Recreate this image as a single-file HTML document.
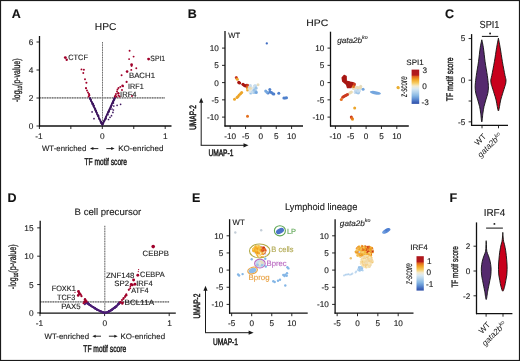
<!DOCTYPE html>
<html><head><meta charset="utf-8"><style>
html,body{margin:0;padding:0;background:#fff;}
svg{display:block;font-family:"Liberation Sans", sans-serif;will-change:transform;text-rendering:geometricPrecision;}
</style></head><body>
<svg width="520" height="361" viewBox="0 0 520 361">
<rect x="0.5" y="0.5" width="519" height="360" fill="#fff" stroke="#1a1a1a" stroke-width="1.2"/>
<text x="11.70" y="17.50" font-size="12.5" font-weight="bold" font-style="normal" fill="#111" text-anchor="start"  stroke="#111" stroke-width="0.12">A</text>
<text x="187.80" y="17.50" font-size="12.5" font-weight="bold" font-style="normal" fill="#111" text-anchor="start"  stroke="#111" stroke-width="0.12">B</text>
<text x="445.00" y="17.50" font-size="12.5" font-weight="bold" font-style="normal" fill="#111" text-anchor="start"  stroke="#111" stroke-width="0.12">C</text>
<text x="7.50" y="201.60" font-size="12.5" font-weight="bold" font-style="normal" fill="#111" text-anchor="start"  stroke="#111" stroke-width="0.12">D</text>
<text x="192.00" y="201.80" font-size="12.5" font-weight="bold" font-style="normal" fill="#111" text-anchor="start"  stroke="#111" stroke-width="0.12">E</text>
<text x="449.50" y="201.60" font-size="12.5" font-weight="bold" font-style="normal" fill="#111" text-anchor="start"  stroke="#111" stroke-width="0.12">F</text>
<text x="94.78" y="30.00" font-size="10" font-weight="normal" font-style="normal" fill="#1a1a1a" text-anchor="start" textLength="21.60" lengthAdjust="spacingAndGlyphs"  stroke="#1a1a1a" stroke-width="0.12">HPC</text>
<line x1="102.50" y1="42.00" x2="102.50" y2="126.00" stroke="#c4c4c4" stroke-width="1.0" />
<line x1="102.50" y1="42.00" x2="102.50" y2="126.00" stroke="#6a6a6a" stroke-width="0.95" stroke-dasharray="1.3,1.2"/>
<line x1="39.50" y1="97.90" x2="165.00" y2="97.90" stroke="#b4b4b4" stroke-width="1.4" />
<line x1="39.50" y1="97.90" x2="165.00" y2="97.90" stroke="#6c6c6c" stroke-width="1.2" stroke-dasharray="1.3,1.2"/>
<line x1="39.50" y1="36.00" x2="39.50" y2="126.50" stroke="#111111" stroke-width="1.3" />
<line x1="39.00" y1="126.00" x2="171.50" y2="126.00" stroke="#111111" stroke-width="1.3" />
<line x1="36.50" y1="126.00" x2="39.50" y2="126.00" stroke="#111111" stroke-width="0.9" />
<text x="33.30" y="128.95" font-size="8.3" font-weight="normal" font-style="normal" fill="#1c1c1c" text-anchor="end"  stroke="#1c1c1c" stroke-width="0.12">0</text>
<line x1="36.50" y1="98.00" x2="39.50" y2="98.00" stroke="#111111" stroke-width="0.9" />
<text x="33.30" y="100.95" font-size="8.3" font-weight="normal" font-style="normal" fill="#1c1c1c" text-anchor="end"  stroke="#1c1c1c" stroke-width="0.12">2</text>
<line x1="36.50" y1="70.00" x2="39.50" y2="70.00" stroke="#111111" stroke-width="0.9" />
<text x="33.30" y="72.95" font-size="8.3" font-weight="normal" font-style="normal" fill="#1c1c1c" text-anchor="end"  stroke="#1c1c1c" stroke-width="0.12">4</text>
<line x1="36.50" y1="42.00" x2="39.50" y2="42.00" stroke="#111111" stroke-width="0.9" />
<text x="33.30" y="44.95" font-size="8.3" font-weight="normal" font-style="normal" fill="#1c1c1c" text-anchor="end"  stroke="#1c1c1c" stroke-width="0.12">6</text>
<line x1="39.40" y1="126.00" x2="39.40" y2="129.00" stroke="#111111" stroke-width="0.9" />
<line x1="70.85" y1="126.00" x2="70.85" y2="129.00" stroke="#111111" stroke-width="0.9" />
<line x1="102.30" y1="126.00" x2="102.30" y2="129.00" stroke="#111111" stroke-width="0.9" />
<line x1="133.75" y1="126.00" x2="133.75" y2="129.00" stroke="#111111" stroke-width="0.9" />
<line x1="165.20" y1="126.00" x2="165.20" y2="129.00" stroke="#111111" stroke-width="0.9" />
<text x="39.00" y="139.20" font-size="8.3" font-weight="normal" font-style="normal" fill="#1c1c1c" text-anchor="middle"  stroke="#1c1c1c" stroke-width="0.12">-1</text>
<text x="102.20" y="139.20" font-size="8.3" font-weight="normal" font-style="normal" fill="#1c1c1c" text-anchor="middle"  stroke="#1c1c1c" stroke-width="0.12">0</text>
<text x="165.20" y="139.20" font-size="8.3" font-weight="normal" font-style="normal" fill="#1c1c1c" text-anchor="middle"  stroke="#1c1c1c" stroke-width="0.12">1</text>
<text x="41.97" y="151.30" font-size="7.8" font-weight="normal" font-style="normal" fill="#1a1a1a" text-anchor="start" textLength="44.34" lengthAdjust="spacingAndGlyphs"  stroke="#1a1a1a" stroke-width="0.12">WT-enriched</text>
<line x1="98.30" y1="148.60" x2="92.72" y2="148.60" stroke="#1a1a1a" stroke-width="0.95" />
<path d="M90.00,148.60 L93.40,147.10 L93.40,150.10 Z" fill="#1a1a1a"/>
<line x1="106.30" y1="148.60" x2="111.88" y2="148.60" stroke="#1a1a1a" stroke-width="0.95" />
<path d="M114.60,148.60 L111.20,147.10 L111.20,150.10 Z" fill="#1a1a1a"/>
<text x="118.16" y="151.30" font-size="7.8" font-weight="normal" font-style="normal" fill="#1a1a1a" text-anchor="start" textLength="45.34" lengthAdjust="spacingAndGlyphs"  stroke="#1a1a1a" stroke-width="0.12">KO-enriched</text>
<text x="84.48" y="164.50" font-size="9.8" font-weight="normal" font-style="normal" fill="#1a1a1a" text-anchor="start" textLength="42.56" lengthAdjust="spacingAndGlyphs" stroke="#1c1c1c" stroke-width="0.45">TF motif score</text>
<g transform="translate(19.80,80.25) rotate(-90)"><text x="0" y="0" font-size="10.4" font-weight="normal" font-style="normal" fill="#1a1a1a" text-anchor="middle" textLength="43.50" lengthAdjust="spacingAndGlyphs" stroke="#1c1c1c" stroke-width="0.3">-log<tspan font-size="6" dy="2">10</tspan><tspan dy="-2">(p-value)</tspan></text></g>
<path d="M89.6,97.6 L102.2,125.0 L114.7,97.6" fill="none" stroke="#3e165f" stroke-width="1.6" stroke-linejoin="round"/>
<circle cx="93.06" cy="104.07" r="0.75" fill="#3e165f"/>
<circle cx="113.04" cy="101.85" r="0.75" fill="#3e165f"/>
<circle cx="90.14" cy="99.42" r="0.75" fill="#3e165f"/>
<circle cx="105.28" cy="119.53" r="0.75" fill="#3e165f"/>
<circle cx="99.56" cy="118.57" r="0.75" fill="#3e165f"/>
<circle cx="111.79" cy="105.18" r="0.75" fill="#3e165f"/>
<circle cx="92.19" cy="102.33" r="0.75" fill="#3e165f"/>
<circle cx="103.30" cy="123.01" r="0.75" fill="#3e165f"/>
<circle cx="100.48" cy="120.31" r="0.75" fill="#3e165f"/>
<circle cx="113.04" cy="102.90" r="0.75" fill="#3e165f"/>
<circle cx="93.41" cy="106.09" r="0.75" fill="#3e165f"/>
<circle cx="104.54" cy="121.02" r="0.75" fill="#3e165f"/>
<circle cx="101.29" cy="121.71" r="0.75" fill="#3e165f"/>
<circle cx="106.62" cy="116.00" r="0.75" fill="#3e165f"/>
<circle cx="96.37" cy="111.46" r="0.75" fill="#3e165f"/>
<circle cx="114.04" cy="100.05" r="0.75" fill="#3e165f"/>
<circle cx="101.88" cy="123.21" r="0.75" fill="#3e165f"/>
<circle cx="111.37" cy="105.83" r="0.75" fill="#3e165f"/>
<circle cx="100.74" cy="122.50" r="0.75" fill="#3e165f"/>
<circle cx="104.51" cy="120.84" r="0.75" fill="#3e165f"/>
<circle cx="95.91" cy="111.53" r="0.75" fill="#3e165f"/>
<circle cx="109.63" cy="109.41" r="0.75" fill="#3e165f"/>
<circle cx="91.70" cy="102.02" r="0.75" fill="#3e165f"/>
<circle cx="114.93" cy="98.78" r="0.75" fill="#3e165f"/>
<circle cx="90.26" cy="98.87" r="0.75" fill="#3e165f"/>
<circle cx="108.28" cy="112.25" r="0.75" fill="#3e165f"/>
<circle cx="95.22" cy="110.51" r="0.75" fill="#3e165f"/>
<circle cx="113.55" cy="102.96" r="0.75" fill="#3e165f"/>
<circle cx="95.18" cy="108.91" r="0.75" fill="#3e165f"/>
<circle cx="111.86" cy="105.17" r="0.75" fill="#3e165f"/>
<circle cx="94.33" cy="107.35" r="0.75" fill="#3e165f"/>
<circle cx="108.11" cy="112.90" r="0.75" fill="#3e165f"/>
<circle cx="101.33" cy="122.38" r="0.75" fill="#3e165f"/>
<circle cx="111.93" cy="103.87" r="0.75" fill="#3e165f"/>
<circle cx="99.33" cy="118.57" r="0.75" fill="#3e165f"/>
<circle cx="110.78" cy="106.67" r="0.75" fill="#3e165f"/>
<circle cx="92.00" cy="102.46" r="0.75" fill="#3e165f"/>
<circle cx="106.02" cy="116.71" r="0.75" fill="#3e165f"/>
<circle cx="101.61" cy="122.15" r="0.75" fill="#3e165f"/>
<circle cx="102.91" cy="123.90" r="0.75" fill="#3e165f"/>
<circle cx="89.89" cy="98.10" r="0.75" fill="#3e165f"/>
<circle cx="106.14" cy="118.84" r="0.75" fill="#3e165f"/>
<circle cx="95.41" cy="108.85" r="0.75" fill="#3e165f"/>
<circle cx="104.69" cy="120.01" r="0.75" fill="#3e165f"/>
<circle cx="93.66" cy="105.64" r="0.75" fill="#3e165f"/>
<circle cx="113.45" cy="101.34" r="0.75" fill="#3e165f"/>
<circle cx="94.92" cy="108.06" r="0.75" fill="#3e165f"/>
<circle cx="114.68" cy="97.86" r="0.75" fill="#3e165f"/>
<circle cx="90.67" cy="98.83" r="0.75" fill="#3e165f"/>
<circle cx="110.86" cy="107.54" r="0.75" fill="#3e165f"/>
<circle cx="94.20" cy="105.56" r="0.75" fill="#3e165f"/>
<circle cx="110.13" cy="109.22" r="0.75" fill="#3e165f"/>
<circle cx="92.56" cy="103.30" r="0.75" fill="#3e165f"/>
<circle cx="112.65" cy="102.22" r="0.75" fill="#3e165f"/>
<circle cx="98.43" cy="116.15" r="0.75" fill="#3e165f"/>
<circle cx="108.67" cy="111.04" r="0.75" fill="#3e165f"/>
<circle cx="93.14" cy="104.42" r="0.75" fill="#3e165f"/>
<circle cx="108.09" cy="112.10" r="0.75" fill="#3e165f"/>
<circle cx="98.85" cy="118.80" r="0.75" fill="#3e165f"/>
<circle cx="109.45" cy="110.69" r="0.75" fill="#3e165f"/>
<circle cx="92.83" cy="104.23" r="0.75" fill="#3e165f"/>
<circle cx="109.50" cy="109.14" r="0.75" fill="#3e165f"/>
<circle cx="93.42" cy="104.41" r="0.75" fill="#3e165f"/>
<circle cx="109.01" cy="111.26" r="0.75" fill="#3e165f"/>
<circle cx="90.24" cy="98.47" r="0.75" fill="#3e165f"/>
<circle cx="112.43" cy="103.30" r="0.75" fill="#3e165f"/>
<circle cx="92.88" cy="103.94" r="0.75" fill="#3e165f"/>
<circle cx="114.24" cy="99.00" r="0.75" fill="#3e165f"/>
<circle cx="100.70" cy="123.03" r="0.75" fill="#3e165f"/>
<circle cx="110.21" cy="108.64" r="0.75" fill="#3e165f"/>
<circle cx="100.90" cy="122.29" r="0.75" fill="#3e165f"/>
<circle cx="106.05" cy="118.01" r="0.75" fill="#3e165f"/>
<circle cx="96.25" cy="111.14" r="0.75" fill="#3e165f"/>
<circle cx="103.95" cy="121.54" r="0.75" fill="#3e165f"/>
<circle cx="101.43" cy="122.25" r="0.75" fill="#3e165f"/>
<circle cx="106.67" cy="115.60" r="0.75" fill="#3e165f"/>
<circle cx="99.58" cy="119.51" r="0.75" fill="#3e165f"/>
<circle cx="108.74" cy="112.07" r="0.75" fill="#3e165f"/>
<circle cx="98.01" cy="115.54" r="0.75" fill="#3e165f"/>
<circle cx="103.49" cy="122.88" r="0.75" fill="#3e165f"/>
<circle cx="102.61" cy="123.80" r="0.75" fill="#3e165f"/>
<circle cx="103.22" cy="123.95" r="0.75" fill="#3e165f"/>
<circle cx="98.89" cy="115.91" r="0.75" fill="#3e165f"/>
<circle cx="113.37" cy="101.10" r="0.75" fill="#3e165f"/>
<circle cx="102.00" cy="124.14" r="0.75" fill="#3e165f"/>
<circle cx="112.75" cy="102.18" r="0.75" fill="#3e165f"/>
<circle cx="97.40" cy="115.00" r="0.75" fill="#3e165f"/>
<circle cx="103.42" cy="123.01" r="0.75" fill="#3e165f"/>
<circle cx="93.28" cy="103.59" r="0.75" fill="#3e165f"/>
<circle cx="114.56" cy="97.96" r="0.75" fill="#3e165f"/>
<circle cx="101.30" cy="121.61" r="0.75" fill="#3e165f"/>
<circle cx="105.46" cy="119.05" r="0.75" fill="#3e165f"/>
<circle cx="100.33" cy="121.65" r="0.75" fill="#3e165f"/>
<circle cx="112.47" cy="103.13" r="0.75" fill="#3e165f"/>
<circle cx="98.00" cy="116.00" r="0.75" fill="#3e165f"/>
<circle cx="105.86" cy="118.80" r="0.75" fill="#3e165f"/>
<circle cx="95.72" cy="110.52" r="0.75" fill="#3e165f"/>
<circle cx="114.29" cy="98.54" r="0.75" fill="#3e165f"/>
<circle cx="96.74" cy="113.89" r="0.75" fill="#3e165f"/>
<circle cx="107.16" cy="114.26" r="0.75" fill="#3e165f"/>
<circle cx="91.27" cy="101.40" r="0.75" fill="#3e165f"/>
<circle cx="108.75" cy="111.93" r="0.75" fill="#3e165f"/>
<circle cx="90.28" cy="97.89" r="0.75" fill="#3e165f"/>
<circle cx="114.35" cy="99.93" r="0.75" fill="#3e165f"/>
<circle cx="96.31" cy="112.49" r="0.75" fill="#3e165f"/>
<circle cx="111.35" cy="106.13" r="0.75" fill="#3e165f"/>
<circle cx="92.02" cy="104.00" r="0.75" fill="#3e165f"/>
<circle cx="113.61" cy="100.21" r="0.75" fill="#3e165f"/>
<circle cx="90.84" cy="100.74" r="0.75" fill="#3e165f"/>
<circle cx="108.94" cy="111.64" r="0.75" fill="#3e165f"/>
<circle cx="95.64" cy="109.49" r="0.75" fill="#3e165f"/>
<circle cx="114.47" cy="99.43" r="0.75" fill="#3e165f"/>
<circle cx="101.04" cy="121.75" r="0.75" fill="#3e165f"/>
<circle cx="104.60" cy="120.52" r="0.75" fill="#3e165f"/>
<circle cx="95.23" cy="109.18" r="0.75" fill="#3e165f"/>
<circle cx="104.03" cy="121.56" r="0.75" fill="#3e165f"/>
<circle cx="92.28" cy="102.43" r="0.75" fill="#3e165f"/>
<circle cx="110.89" cy="106.88" r="0.75" fill="#3e165f"/>
<circle cx="97.07" cy="112.45" r="0.75" fill="#3e165f"/>
<circle cx="115.03" cy="97.75" r="0.75" fill="#3e165f"/>
<circle cx="93.45" cy="106.14" r="0.75" fill="#3e165f"/>
<circle cx="105.90" cy="117.21" r="0.75" fill="#3e165f"/>
<circle cx="96.15" cy="110.87" r="0.75" fill="#3e165f"/>
<circle cx="104.26" cy="120.82" r="0.75" fill="#3e165f"/>
<circle cx="94.44" cy="107.38" r="0.75" fill="#3e165f"/>
<circle cx="108.17" cy="114.77" r="0.75" fill="#3e165f"/>
<circle cx="98.18" cy="116.14" r="0.75" fill="#3e165f"/>
<circle cx="103.54" cy="122.61" r="0.75" fill="#3e165f"/>
<circle cx="95.95" cy="110.40" r="0.75" fill="#3e165f"/>
<circle cx="104.06" cy="121.37" r="0.75" fill="#3e165f"/>
<circle cx="99.52" cy="119.16" r="0.75" fill="#3e165f"/>
<circle cx="113.26" cy="101.45" r="0.75" fill="#3e165f"/>
<circle cx="99.28" cy="118.73" r="0.75" fill="#3e165f"/>
<circle cx="113.54" cy="101.25" r="0.75" fill="#3e165f"/>
<circle cx="91.23" cy="99.86" r="0.75" fill="#3e165f"/>
<circle cx="113.12" cy="102.47" r="0.75" fill="#3e165f"/>
<circle cx="100.94" cy="122.31" r="0.75" fill="#3e165f"/>
<circle cx="110.74" cy="107.20" r="0.75" fill="#3e165f"/>
<circle cx="97.93" cy="114.61" r="0.75" fill="#3e165f"/>
<circle cx="103.25" cy="123.25" r="0.75" fill="#3e165f"/>
<circle cx="117.10" cy="105.30" r="0.85" fill="#3e165f"/>
<circle cx="120.60" cy="104.30" r="0.85" fill="#3e165f"/>
<circle cx="113.40" cy="110.00" r="0.85" fill="#3e165f"/>
<circle cx="112.90" cy="112.40" r="0.85" fill="#3e165f"/>
<circle cx="111.50" cy="115.70" r="0.85" fill="#3e165f"/>
<circle cx="94.00" cy="118.70" r="0.85" fill="#3e165f"/>
<circle cx="92.10" cy="111.90" r="0.85" fill="#3e165f"/>
<circle cx="108.50" cy="119.50" r="0.85" fill="#3e165f"/>
<circle cx="110.00" cy="117.30" r="0.85" fill="#3e165f"/>
<circle cx="112.00" cy="109.00" r="0.85" fill="#3e165f"/>
<circle cx="113.80" cy="106.00" r="0.85" fill="#3e165f"/>
<circle cx="65.30" cy="57.60" r="1.44" fill="#a0002a"/>
<circle cx="66.70" cy="59.70" r="1.2" fill="#a0002a"/>
<circle cx="81.50" cy="69.40" r="0.96" fill="#a0002a"/>
<circle cx="83.90" cy="69.70" r="0.96" fill="#a0002a"/>
<circle cx="83.30" cy="73.00" r="0.96" fill="#a0002a"/>
<circle cx="85.00" cy="79.30" r="0.96" fill="#a0002a"/>
<circle cx="86.40" cy="82.80" r="1.02" fill="#a0002a"/>
<circle cx="86.00" cy="88.30" r="0.96" fill="#a0002a"/>
<circle cx="86.00" cy="88.10" r="0.96" fill="#a0002a"/>
<circle cx="87.00" cy="90.50" r="0.96" fill="#a0002a"/>
<circle cx="88.00" cy="92.50" r="0.96" fill="#a0002a"/>
<circle cx="89.00" cy="94.00" r="1.08" fill="#a0002a"/>
<circle cx="89.30" cy="95.30" r="1.08" fill="#a0002a"/>
<circle cx="88.60" cy="96.50" r="0.96" fill="#a0002a"/>
<circle cx="129.60" cy="50.80" r="0.96" fill="#a0002a"/>
<circle cx="133.60" cy="56.60" r="0.96" fill="#a0002a"/>
<circle cx="129.10" cy="59.10" r="0.96" fill="#a0002a"/>
<circle cx="148.60" cy="59.10" r="1.44" fill="#a0002a"/>
<circle cx="131.60" cy="64.60" r="1.32" fill="#a0002a"/>
<circle cx="131.60" cy="65.80" r="1.08" fill="#a0002a"/>
<circle cx="136.30" cy="68.30" r="0.96" fill="#a0002a"/>
<circle cx="131.30" cy="69.90" r="0.96" fill="#a0002a"/>
<circle cx="127.10" cy="71.60" r="1.32" fill="#a0002a"/>
<circle cx="121.60" cy="75.20" r="0.96" fill="#a0002a"/>
<circle cx="126.60" cy="81.90" r="1.08" fill="#a0002a"/>
<circle cx="122.50" cy="85.70" r="1.2" fill="#a0002a"/>
<circle cx="120.30" cy="86.90" r="0.96" fill="#a0002a"/>
<circle cx="118.50" cy="88.00" r="0.96" fill="#a0002a"/>
<circle cx="117.50" cy="89.50" r="0.96" fill="#a0002a"/>
<circle cx="118.30" cy="93.20" r="1.2" fill="#a0002a"/>
<circle cx="117.00" cy="91.50" r="0.96" fill="#a0002a"/>
<circle cx="116.00" cy="94.00" r="0.96" fill="#a0002a"/>
<circle cx="115.50" cy="95.50" r="0.96" fill="#a0002a"/>
<circle cx="114.80" cy="96.50" r="0.96" fill="#a0002a"/>
<circle cx="116.50" cy="96.80" r="0.96" fill="#a0002a"/>
<circle cx="118.50" cy="95.50" r="0.96" fill="#a0002a"/>
<circle cx="119.60" cy="96.50" r="0.96" fill="#a0002a"/>
<circle cx="132.00" cy="96.00" r="0.96" fill="#a0002a"/>
<circle cx="123.00" cy="86.20" r="0.96" fill="#a0002a"/>
<circle cx="122.00" cy="90.00" r="0.96" fill="#a0002a"/>
<text x="68.21" y="60.10" font-size="7.7" font-weight="normal" font-style="normal" fill="#1a1a1a" text-anchor="start" textLength="19.80" lengthAdjust="spacingAndGlyphs"  stroke="#1a1a1a" stroke-width="0.12">CTCF</text>
<text x="150.35" y="61.30" font-size="7.7" font-weight="normal" font-style="normal" fill="#1a1a1a" text-anchor="start" textLength="14.83" lengthAdjust="spacingAndGlyphs"  stroke="#1a1a1a" stroke-width="0.12">SPI1</text>
<text x="128.97" y="78.00" font-size="7.7" font-weight="normal" font-style="normal" fill="#1a1a1a" text-anchor="start" textLength="26.01" lengthAdjust="spacingAndGlyphs"  stroke="#1a1a1a" stroke-width="0.12">BACH1</text>
<text x="128.09" y="88.50" font-size="7.7" font-weight="normal" font-style="normal" fill="#1a1a1a" text-anchor="start" textLength="15.59" lengthAdjust="spacingAndGlyphs"  stroke="#1a1a1a" stroke-width="0.12">IRF1</text>
<text x="120.09" y="96.50" font-size="7.7" font-weight="normal" font-style="normal" fill="#1a1a1a" text-anchor="start" textLength="16.44" lengthAdjust="spacingAndGlyphs"  stroke="#1a1a1a" stroke-width="0.12">IRF4</text>
<text x="306.23" y="25.70" font-size="9.4" font-weight="normal" font-style="normal" fill="#1a1a1a" text-anchor="start" textLength="21.93" lengthAdjust="spacingAndGlyphs"  stroke="#1a1a1a" stroke-width="0.12">HPC</text>
<line x1="225.00" y1="31.00" x2="225.00" y2="126.50" stroke="#111111" stroke-width="1.3" />
<line x1="224.50" y1="126.00" x2="303.00" y2="126.00" stroke="#111111" stroke-width="1.3" />
<line x1="222.00" y1="48.10" x2="225.00" y2="48.10" stroke="#111111" stroke-width="0.9" />
<text x="218.80" y="51.00" font-size="8.2" font-weight="normal" font-style="normal" fill="#1a1a1a" text-anchor="end"  stroke="#1a1a1a" stroke-width="0.12">10</text>
<line x1="222.00" y1="65.35" x2="225.00" y2="65.35" stroke="#111111" stroke-width="0.9" />
<text x="218.80" y="68.25" font-size="8.2" font-weight="normal" font-style="normal" fill="#1a1a1a" text-anchor="end"  stroke="#1a1a1a" stroke-width="0.12">5</text>
<line x1="222.00" y1="82.60" x2="225.00" y2="82.60" stroke="#111111" stroke-width="0.9" />
<text x="218.80" y="85.50" font-size="8.2" font-weight="normal" font-style="normal" fill="#1a1a1a" text-anchor="end"  stroke="#1a1a1a" stroke-width="0.12">0</text>
<line x1="222.00" y1="99.85" x2="225.00" y2="99.85" stroke="#111111" stroke-width="0.9" />
<text x="218.80" y="102.75" font-size="8.2" font-weight="normal" font-style="normal" fill="#1a1a1a" text-anchor="end"  stroke="#1a1a1a" stroke-width="0.12">-5</text>
<line x1="222.00" y1="117.10" x2="225.00" y2="117.10" stroke="#111111" stroke-width="0.9" />
<text x="218.80" y="120.00" font-size="8.2" font-weight="normal" font-style="normal" fill="#1a1a1a" text-anchor="end"  stroke="#1a1a1a" stroke-width="0.12">-10</text>
<line x1="230.20" y1="126.00" x2="230.20" y2="129.00" stroke="#111111" stroke-width="0.9" />
<text x="230.20" y="138.60" font-size="8.2" font-weight="normal" font-style="normal" fill="#1a1a1a" text-anchor="middle"  stroke="#1a1a1a" stroke-width="0.12">-10</text>
<line x1="245.55" y1="126.00" x2="245.55" y2="129.00" stroke="#111111" stroke-width="0.9" />
<text x="245.55" y="138.60" font-size="8.2" font-weight="normal" font-style="normal" fill="#1a1a1a" text-anchor="middle"  stroke="#1a1a1a" stroke-width="0.12">-5</text>
<line x1="260.90" y1="126.00" x2="260.90" y2="129.00" stroke="#111111" stroke-width="0.9" />
<text x="260.90" y="138.60" font-size="8.2" font-weight="normal" font-style="normal" fill="#1a1a1a" text-anchor="middle"  stroke="#1a1a1a" stroke-width="0.12">0</text>
<line x1="276.25" y1="126.00" x2="276.25" y2="129.00" stroke="#111111" stroke-width="0.9" />
<text x="276.25" y="138.60" font-size="8.2" font-weight="normal" font-style="normal" fill="#1a1a1a" text-anchor="middle"  stroke="#1a1a1a" stroke-width="0.12">5</text>
<line x1="291.60" y1="126.00" x2="291.60" y2="129.00" stroke="#111111" stroke-width="0.9" />
<text x="291.60" y="138.60" font-size="8.2" font-weight="normal" font-style="normal" fill="#1a1a1a" text-anchor="middle"  stroke="#1a1a1a" stroke-width="0.12">10</text>
<line x1="330.50" y1="31.70" x2="330.50" y2="126.50" stroke="#111111" stroke-width="1.3" />
<line x1="330.00" y1="126.00" x2="408.80" y2="126.00" stroke="#111111" stroke-width="1.3" />
<line x1="327.50" y1="48.10" x2="330.50" y2="48.10" stroke="#111111" stroke-width="0.9" />
<text x="324.30" y="51.00" font-size="8.2" font-weight="normal" font-style="normal" fill="#1a1a1a" text-anchor="end"  stroke="#1a1a1a" stroke-width="0.12">10</text>
<line x1="327.50" y1="65.35" x2="330.50" y2="65.35" stroke="#111111" stroke-width="0.9" />
<text x="324.30" y="68.25" font-size="8.2" font-weight="normal" font-style="normal" fill="#1a1a1a" text-anchor="end"  stroke="#1a1a1a" stroke-width="0.12">5</text>
<line x1="327.50" y1="82.60" x2="330.50" y2="82.60" stroke="#111111" stroke-width="0.9" />
<text x="324.30" y="85.50" font-size="8.2" font-weight="normal" font-style="normal" fill="#1a1a1a" text-anchor="end"  stroke="#1a1a1a" stroke-width="0.12">0</text>
<line x1="327.50" y1="99.85" x2="330.50" y2="99.85" stroke="#111111" stroke-width="0.9" />
<text x="324.30" y="102.75" font-size="8.2" font-weight="normal" font-style="normal" fill="#1a1a1a" text-anchor="end"  stroke="#1a1a1a" stroke-width="0.12">-5</text>
<line x1="327.50" y1="117.10" x2="330.50" y2="117.10" stroke="#111111" stroke-width="0.9" />
<text x="324.30" y="120.00" font-size="8.2" font-weight="normal" font-style="normal" fill="#1a1a1a" text-anchor="end"  stroke="#1a1a1a" stroke-width="0.12">-10</text>
<line x1="335.40" y1="126.00" x2="335.40" y2="129.00" stroke="#111111" stroke-width="0.9" />
<text x="335.40" y="138.60" font-size="8.2" font-weight="normal" font-style="normal" fill="#1a1a1a" text-anchor="middle"  stroke="#1a1a1a" stroke-width="0.12">-10</text>
<line x1="350.75" y1="126.00" x2="350.75" y2="129.00" stroke="#111111" stroke-width="0.9" />
<text x="350.75" y="138.60" font-size="8.2" font-weight="normal" font-style="normal" fill="#1a1a1a" text-anchor="middle"  stroke="#1a1a1a" stroke-width="0.12">-5</text>
<line x1="366.10" y1="126.00" x2="366.10" y2="129.00" stroke="#111111" stroke-width="0.9" />
<text x="366.10" y="138.60" font-size="8.2" font-weight="normal" font-style="normal" fill="#1a1a1a" text-anchor="middle"  stroke="#1a1a1a" stroke-width="0.12">0</text>
<line x1="381.45" y1="126.00" x2="381.45" y2="129.00" stroke="#111111" stroke-width="0.9" />
<text x="381.45" y="138.60" font-size="8.2" font-weight="normal" font-style="normal" fill="#1a1a1a" text-anchor="middle"  stroke="#1a1a1a" stroke-width="0.12">5</text>
<line x1="396.80" y1="126.00" x2="396.80" y2="129.00" stroke="#111111" stroke-width="0.9" />
<text x="396.80" y="138.60" font-size="8.2" font-weight="normal" font-style="normal" fill="#1a1a1a" text-anchor="middle"  stroke="#1a1a1a" stroke-width="0.12">10</text>
<text x="228.37" y="38.20" font-size="7.5" font-weight="normal" font-style="normal" fill="#1a1a1a" text-anchor="start" textLength="11.81" lengthAdjust="spacingAndGlyphs"  stroke="#1a1a1a" stroke-width="0.12">WT</text>
<text x="337.18" y="43.20" font-size="7.9" font-weight="normal" font-style="italic" fill="#1a1a1a" text-anchor="start" textLength="24.86" lengthAdjust="spacingAndGlyphs"  stroke="#1a1a1a" stroke-width="0.12">gata2b</text>
<text x="362.11" y="39.30" font-size="5.2" font-weight="normal" font-style="italic" fill="#1a1a1a" text-anchor="start" textLength="5.55" lengthAdjust="spacingAndGlyphs"  stroke="#1a1a1a" stroke-width="0.12">ko</text>
<line x1="201.20" y1="145.30" x2="201.20" y2="101.80" stroke="#1a1a1a" stroke-width="1.0" />
<path d="M201.20,97.80 L199.10,102.80 L203.30,102.80 Z" fill="#1a1a1a"/>
<line x1="200.70" y1="145.30" x2="244.50" y2="145.30" stroke="#1a1a1a" stroke-width="1.0" />
<path d="M248.50,145.30 L243.50,143.20 L243.50,147.40 Z" fill="#1a1a1a"/>
<text x="208.48" y="155.80" font-size="9.3" font-weight="normal" font-style="normal" fill="#1a1a1a" text-anchor="start" textLength="24.87" lengthAdjust="spacingAndGlyphs" stroke="#1c1c1c" stroke-width="0.5">UMAP-1</text>
<g transform="translate(196.00,117.50) rotate(-90)"><text x="0" y="0" font-size="9.3" font-weight="normal" font-style="normal" fill="#1a1a1a" text-anchor="middle" textLength="24.70" lengthAdjust="spacingAndGlyphs" stroke="#1c1c1c" stroke-width="0.5">UMAP-2</text></g>
<circle cx="266.80" cy="43.40" r="1.15" fill="#3f6cc2"/>
<circle cx="236.30" cy="77.40" r="1.5" fill="#cc3a1e"/>
<circle cx="237.30" cy="79.30" r="1.5" fill="#eca52a"/>
<circle cx="247.50" cy="116.20" r="1.5" fill="#e4701e"/>
<circle cx="258.00" cy="84.80" r="1.5" fill="#e6dcbc"/>
<circle cx="238.80" cy="82.40" r="1.6" fill="#a81612"/>
<circle cx="239.60" cy="83.00" r="1.6" fill="#a81612"/>
<circle cx="243.00" cy="84.30" r="1.6" fill="#a81612"/>
<circle cx="244.20" cy="85.30" r="1.6" fill="#a81612"/>
<circle cx="245.50" cy="86.00" r="1.6" fill="#a81612"/>
<circle cx="246.50" cy="85.40" r="1.6" fill="#a81612"/>
<circle cx="247.60" cy="85.30" r="1.5" fill="#cc3a1e"/>
<circle cx="247.30" cy="87.40" r="1.5" fill="#e4701e"/>
<circle cx="247.60" cy="90.00" r="1.5" fill="#eca52a"/>
<circle cx="248.50" cy="88.70" r="1.5" fill="#f4c860"/>
<circle cx="241.70" cy="92.40" r="1.5" fill="#eca52a"/>
<circle cx="240.50" cy="93.80" r="1.5" fill="#eca52a"/>
<circle cx="239.20" cy="95.10" r="1.5" fill="#eca52a"/>
<circle cx="238.00" cy="96.50" r="1.5" fill="#eca52a"/>
<circle cx="237.00" cy="97.40" r="1.5" fill="#eca52a"/>
<circle cx="234.50" cy="99.30" r="1.5" fill="#eca52a"/>
<circle cx="253.86" cy="91.21" r="1.5" fill="#9cc4e8"/>
<circle cx="255.38" cy="91.47" r="1.5" fill="#9cc4e8"/>
<circle cx="254.04" cy="92.44" r="1.5" fill="#9cc4e8"/>
<circle cx="252.10" cy="92.19" r="1.5" fill="#c4dbee"/>
<circle cx="253.31" cy="89.92" r="1.5" fill="#9cc4e8"/>
<circle cx="254.62" cy="88.64" r="1.5" fill="#9cc4e8"/>
<circle cx="255.91" cy="91.40" r="1.5" fill="#9cc4e8"/>
<circle cx="254.83" cy="86.05" r="1.5" fill="#c4dbee"/>
<circle cx="250.39" cy="85.51" r="1.5" fill="#c4dbee"/>
<circle cx="250.97" cy="87.16" r="1.5" fill="#d8e6f0"/>
<circle cx="255.61" cy="87.73" r="1.5" fill="#9cc4e8"/>
<circle cx="253.27" cy="90.72" r="1.5" fill="#9cc4e8"/>
<circle cx="250.77" cy="92.96" r="1.5" fill="#9cc4e8"/>
<circle cx="256.27" cy="92.38" r="1.5" fill="#74a6de"/>
<circle cx="249.65" cy="88.69" r="1.5" fill="#d8e6f0"/>
<circle cx="251.35" cy="88.06" r="1.5" fill="#c4dbee"/>
<circle cx="253.67" cy="90.95" r="1.5" fill="#9cc4e8"/>
<circle cx="251.67" cy="91.80" r="1.5" fill="#c4dbee"/>
<circle cx="254.37" cy="86.92" r="1.5" fill="#c4dbee"/>
<circle cx="254.43" cy="85.94" r="1.5" fill="#c4dbee"/>
<circle cx="256.14" cy="88.25" r="1.5" fill="#c4dbee"/>
<circle cx="249.63" cy="91.57" r="1.5" fill="#e4e8e4"/>
<circle cx="252.13" cy="91.98" r="1.5" fill="#c4dbee"/>
<circle cx="249.83" cy="86.89" r="1.5" fill="#d8e6f0"/>
<circle cx="250.33" cy="87.39" r="1.5" fill="#c4dbee"/>
<circle cx="251.91" cy="88.23" r="1.5" fill="#e4e8e4"/>
<circle cx="254.93" cy="86.33" r="1.5" fill="#e4e8e4"/>
<circle cx="255.52" cy="85.78" r="1.5" fill="#c4dbee"/>
<circle cx="250.96" cy="89.45" r="1.5" fill="#e4e8e4"/>
<circle cx="255.93" cy="88.12" r="1.5" fill="#9cc4e8"/>
<circle cx="250.30" cy="88.30" r="1.5" fill="#e8dcb8"/>
<circle cx="265.70" cy="91.00" r="1.5" fill="#74a6de"/>
<circle cx="269.80" cy="89.60" r="1.5" fill="#4f80cc"/>
<circle cx="268.00" cy="93.00" r="1.5" fill="#4f80cc"/>
<circle cx="272.90" cy="93.70" r="1.5" fill="#4f80cc"/>
<circle cx="270.00" cy="92.00" r="1.5" fill="#4f80cc"/>
<circle cx="267.00" cy="92.20" r="1.5" fill="#74a6de"/>
<circle cx="271.50" cy="92.60" r="1.5" fill="#4f80cc"/>
<circle cx="273.80" cy="93.90" r="1.5" fill="#4f80cc"/>
<circle cx="278.80" cy="93.30" r="1.5" fill="#4f80cc"/>
<circle cx="283.90" cy="98.10" r="1.5" fill="#4f80cc"/>
<circle cx="286.50" cy="97.80" r="1.5" fill="#4f80cc"/>
<circle cx="285.20" cy="98.00" r="1.5" fill="#4f80cc"/>
<path d="M344.2,75.4 L346.1,76.3 L346.2,81.1 L350.4,82.1 L352.8,82.6 L354.8,84 L354.8,86.4 L350.9,87.6 L347.5,87.6 L346.6,84.5 L342.7,81.1 L342.2,77.8 Z" fill="#a81612" stroke="#a81612" stroke-width="1.4" stroke-linejoin="round"/>
<circle cx="357.10" cy="89.05" r="1.5" fill="#9cc4e8"/>
<circle cx="355.31" cy="92.41" r="1.5" fill="#c4dbee"/>
<circle cx="357.38" cy="88.59" r="1.5" fill="#9cc4e8"/>
<circle cx="356.40" cy="88.73" r="1.5" fill="#d4e2ee"/>
<circle cx="355.45" cy="88.75" r="1.5" fill="#d4e2ee"/>
<circle cx="355.38" cy="91.13" r="1.5" fill="#c4dbee"/>
<circle cx="359.10" cy="91.21" r="1.5" fill="#c4dbee"/>
<circle cx="358.75" cy="90.28" r="1.5" fill="#c4dbee"/>
<circle cx="355.30" cy="92.59" r="1.5" fill="#d4e2ee"/>
<circle cx="357.72" cy="91.00" r="1.5" fill="#9cc4e8"/>
<circle cx="357.01" cy="92.38" r="1.5" fill="#c4dbee"/>
<circle cx="355.67" cy="91.16" r="1.5" fill="#c4dbee"/>
<circle cx="357.42" cy="91.04" r="1.5" fill="#c4dbee"/>
<circle cx="358.67" cy="91.40" r="1.5" fill="#d4e2ee"/>
<circle cx="359.42" cy="90.44" r="1.5" fill="#d4e2ee"/>
<circle cx="358.03" cy="92.92" r="1.5" fill="#d4e2ee"/>
<circle cx="356.95" cy="92.27" r="1.5" fill="#9cc4e8"/>
<circle cx="360.07" cy="88.71" r="1.5" fill="#d4e2ee"/>
<circle cx="358.41" cy="92.68" r="1.5" fill="#9cc4e8"/>
<circle cx="357.92" cy="91.34" r="1.5" fill="#c4dbee"/>
<circle cx="353.94" cy="87.46" r="1.5" fill="#e6dcc0"/>
<circle cx="354.22" cy="87.71" r="1.5" fill="#eadcb4"/>
<circle cx="360.70" cy="86.27" r="1.5" fill="#e6dcc0"/>
<circle cx="355.72" cy="87.23" r="1.5" fill="#e6dcc0"/>
<circle cx="357.64" cy="87.60" r="1.5" fill="#eadcb4"/>
<circle cx="360.56" cy="87.66" r="1.5" fill="#eadcb4"/>
<circle cx="353.49" cy="88.46" r="1.5" fill="#e6dcc0"/>
<circle cx="355.28" cy="87.35" r="1.5" fill="#e6dcc0"/>
<circle cx="353.18" cy="87.62" r="1.5" fill="#eadcb4"/>
<circle cx="357.89" cy="87.73" r="1.5" fill="#eadcb4"/>
<circle cx="354.30" cy="84.00" r="1.5" fill="#cc3a1e"/>
<circle cx="353.50" cy="86.40" r="1.5" fill="#e4701e"/>
<circle cx="363.10" cy="89.30" r="1.5" fill="#74a6de"/>
<ellipse cx="375.4" cy="92.8" rx="5.6" ry="1.7" transform="rotate(10 375.4 92.8)" fill="#74a6de"/>
<circle cx="349.50" cy="93.30" r="1.5" fill="#eadcb4"/>
<circle cx="350.50" cy="92.60" r="1.5" fill="#eadcb4"/>
<circle cx="351.40" cy="92.00" r="1.5" fill="#eadcb4"/>
<circle cx="347.50" cy="94.60" r="1.5" fill="#cc3a1e"/>
<circle cx="345.60" cy="95.60" r="1.5" fill="#cc3a1e"/>
<circle cx="343.70" cy="96.50" r="1.5" fill="#cc3a1e"/>
<circle cx="342.70" cy="97.20" r="1.5" fill="#cc3a1e"/>
<circle cx="346.50" cy="95.10" r="1.5" fill="#cc3a1e"/>
<circle cx="344.60" cy="96.00" r="1.5" fill="#cc3a1e"/>
<circle cx="341.30" cy="99.40" r="1.5" fill="#e4701e"/>
<circle cx="398.00" cy="87.50" r="1.5" fill="#eca52a"/>
<circle cx="354.70" cy="108.00" r="1.5" fill="#eca52a"/>
<circle cx="351.30" cy="117.00" r="1.5" fill="#cc3a1e"/>
<circle cx="352.50" cy="119.20" r="1.5" fill="#eca52a"/>
<circle cx="352.00" cy="118.20" r="1.5" fill="#e4701e"/>
<defs><linearGradient id="rdylbu" x1="0" y1="0" x2="0" y2="1">
<stop offset="0" stop-color="#ac161c"/><stop offset="0.16" stop-color="#b41a1c"/><stop offset="0.2" stop-color="#e0641c"/>
<stop offset="0.29" stop-color="#f0a224"/><stop offset="0.39" stop-color="#f6cc62"/><stop offset="0.48" stop-color="#f2ead0"/>
<stop offset="0.56" stop-color="#d8e8f2"/><stop offset="0.66" stop-color="#b2d2ec"/><stop offset="0.76" stop-color="#88b8e4"/>
<stop offset="0.86" stop-color="#5e8ed2"/><stop offset="0.94" stop-color="#4066ba"/><stop offset="1" stop-color="#3252a8"/></linearGradient></defs>
<rect x="411.6" y="69.6" width="7.6" height="34.3" fill="url(#rdylbu)"/>
<text x="406.35" y="64.70" font-size="7.8" font-weight="normal" font-style="normal" fill="#1a1a1a" text-anchor="start" textLength="17.34" lengthAdjust="spacingAndGlyphs"  stroke="#1a1a1a" stroke-width="0.12">SPI1</text>
<text x="422.50" y="72.90" font-size="8.2" font-weight="normal" font-style="normal" fill="#1a1a1a" text-anchor="start"  stroke="#1a1a1a" stroke-width="0.12">3</text>
<text x="422.30" y="89.20" font-size="8.2" font-weight="normal" font-style="normal" fill="#1a1a1a" text-anchor="start"  stroke="#1a1a1a" stroke-width="0.12">0</text>
<text x="421.50" y="105.20" font-size="8.2" font-weight="normal" font-style="normal" fill="#1a1a1a" text-anchor="start"  stroke="#1a1a1a" stroke-width="0.12">-3</text>
<g transform="translate(406.60,86.70) rotate(-90)"><text x="0" y="0" font-size="10.4" font-weight="normal" font-style="italic" fill="#1a1a1a" text-anchor="middle" textLength="20.80" lengthAdjust="spacingAndGlyphs"  stroke="#1a1a1a" stroke-width="0.12">z-score</text></g>
<circle cx="398.30" cy="87.90" r="1.3" fill="#e8b030"/>
<line x1="471.60" y1="34.10" x2="471.60" y2="125.80" stroke="#111111" stroke-width="1.3" />
<line x1="471.10" y1="125.30" x2="508.00" y2="125.30" stroke="#111111" stroke-width="1.3" />
<line x1="468.60" y1="38.55" x2="471.60" y2="38.55" stroke="#111111" stroke-width="0.9" />
<line x1="468.60" y1="59.38" x2="471.60" y2="59.38" stroke="#111111" stroke-width="0.9" />
<line x1="468.60" y1="80.20" x2="471.60" y2="80.20" stroke="#111111" stroke-width="0.9" />
<line x1="468.60" y1="101.03" x2="471.60" y2="101.03" stroke="#111111" stroke-width="0.9" />
<line x1="468.60" y1="121.85" x2="471.60" y2="121.85" stroke="#111111" stroke-width="0.9" />
<text x="465.20" y="41.45" font-size="8.2" font-weight="normal" font-style="normal" fill="#1a1a1a" text-anchor="end"  stroke="#1a1a1a" stroke-width="0.12">5</text>
<text x="465.20" y="83.10" font-size="8.2" font-weight="normal" font-style="normal" fill="#1a1a1a" text-anchor="end"  stroke="#1a1a1a" stroke-width="0.12">0</text>
<text x="465.20" y="124.75" font-size="8.2" font-weight="normal" font-style="normal" fill="#1a1a1a" text-anchor="end"  stroke="#1a1a1a" stroke-width="0.12">-5</text>
<line x1="482.00" y1="125.30" x2="482.00" y2="128.30" stroke="#111111" stroke-width="0.9" />
<line x1="498.50" y1="125.30" x2="498.50" y2="128.30" stroke="#111111" stroke-width="0.9" />
<text x="479.54" y="28.40" font-size="10.2" font-weight="normal" font-style="normal" fill="#1a1a1a" text-anchor="start" textLength="19.96" lengthAdjust="spacingAndGlyphs"  stroke="#1a1a1a" stroke-width="0.12">SPI1</text>
<line x1="481.90" y1="36.40" x2="498.20" y2="36.40" stroke="#111111" stroke-width="1.0" />
<circle cx="490.10" cy="33.50" r="0.95" fill="#1a1a1a"/>
<path d="M481.80,39.80 C482.07,41.13 482.85,44.15 483.40,47.80 C483.95,51.45 484.45,57.08 485.10,61.70 C485.75,66.32 486.77,71.78 487.30,75.50 C487.83,79.22 488.12,81.92 488.30,84.00 C488.48,86.08 488.48,86.45 488.40,88.00 C488.32,89.55 488.23,91.30 487.80,93.30 C487.37,95.30 486.43,97.78 485.80,100.00 C485.17,102.22 484.48,104.40 484.00,106.60 C483.52,108.80 483.27,110.65 482.90,113.20 C482.53,115.75 482.17,121.90 481.80,121.90 C481.43,121.90 481.07,115.75 480.70,113.20 C480.33,110.65 480.08,108.80 479.60,106.60 C479.12,104.40 478.43,102.22 477.80,100.00 C477.17,97.78 476.23,95.30 475.80,93.30 C475.37,91.30 475.28,89.55 475.20,88.00 C475.12,86.45 475.12,86.08 475.30,84.00 C475.48,81.92 475.77,79.22 476.30,75.50 C476.83,71.78 477.85,66.32 478.50,61.70 C479.15,57.08 479.65,51.45 480.20,47.80 C480.75,44.15 481.53,41.13 481.80,39.80 Z" fill="#552a6e" stroke="#111" stroke-width="0.9" stroke-linejoin="round"/>
<path d="M498.40,38.20 C498.70,39.80 499.53,43.88 500.20,47.80 C500.87,51.72 501.60,57.08 502.40,61.70 C503.20,66.32 504.40,72.45 505.00,75.50 C505.60,78.55 505.90,78.58 506.00,80.00 C506.10,81.42 505.80,82.90 505.60,84.00 C505.40,85.10 505.28,85.05 504.80,86.60 C504.32,88.15 503.38,91.07 502.70,93.30 C502.02,95.53 501.23,97.78 500.70,100.00 C500.17,102.22 499.88,104.78 499.50,106.60 C499.12,108.42 498.77,110.90 498.40,110.90 C498.03,110.90 497.68,108.42 497.30,106.60 C496.92,104.78 496.63,102.22 496.10,100.00 C495.57,97.78 494.78,95.53 494.10,93.30 C493.42,91.07 492.48,88.15 492.00,86.60 C491.52,85.05 491.40,85.10 491.20,84.00 C491.00,82.90 490.70,81.42 490.80,80.00 C490.90,78.58 491.20,78.55 491.80,75.50 C492.40,72.45 493.60,66.32 494.40,61.70 C495.20,57.08 495.93,51.72 496.60,47.80 C497.27,43.88 498.10,39.80 498.40,38.20 Z" fill="#c8001c" stroke="#111" stroke-width="0.9" stroke-linejoin="round"/>
<g transform="translate(452.60,79.40) rotate(-90)"><text x="0" y="0" font-size="9.6" font-weight="normal" font-style="normal" fill="#1a1a1a" text-anchor="middle" textLength="43.80" lengthAdjust="spacingAndGlyphs" stroke="#1c1c1c" stroke-width="0.4">TF motif score</text></g>
<g transform="translate(486.8,136.9) rotate(-45)"><text x="0" y="0" font-size="8.2" text-anchor="end" fill="#1c1c1c">WT</text></g>
<g transform="translate(502.6,136.1) rotate(-45)"><text x="0" y="0" font-size="8.2" font-style="italic" text-anchor="end" fill="#1c1c1c">gata2b<tspan font-size="5.5" dy="-3">ko</tspan></text></g>
<line x1="476.50" y1="222.40" x2="476.50" y2="314.20" stroke="#111111" stroke-width="1.3" />
<line x1="476.00" y1="313.70" x2="512.40" y2="313.70" stroke="#111111" stroke-width="1.3" />
<line x1="473.50" y1="246.20" x2="476.50" y2="246.20" stroke="#111111" stroke-width="0.9" />
<line x1="473.50" y1="271.00" x2="476.50" y2="271.00" stroke="#111111" stroke-width="0.9" />
<line x1="473.50" y1="295.80" x2="476.50" y2="295.80" stroke="#111111" stroke-width="0.9" />
<text x="470.20" y="249.10" font-size="8.2" font-weight="normal" font-style="normal" fill="#1a1a1a" text-anchor="end"  stroke="#1a1a1a" stroke-width="0.12">2</text>
<text x="470.20" y="273.90" font-size="8.2" font-weight="normal" font-style="normal" fill="#1a1a1a" text-anchor="end"  stroke="#1a1a1a" stroke-width="0.12">0</text>
<text x="470.20" y="298.70" font-size="8.2" font-weight="normal" font-style="normal" fill="#1a1a1a" text-anchor="end"  stroke="#1a1a1a" stroke-width="0.12">-2</text>
<line x1="486.10" y1="313.70" x2="486.10" y2="316.70" stroke="#111111" stroke-width="0.9" />
<line x1="503.00" y1="313.70" x2="503.00" y2="316.70" stroke="#111111" stroke-width="0.9" />
<text x="483.68" y="216.30" font-size="10.0" font-weight="normal" font-style="normal" fill="#1a1a1a" text-anchor="start" textLength="21.52" lengthAdjust="spacingAndGlyphs"  stroke="#1a1a1a" stroke-width="0.12">IRF4</text>
<line x1="486.10" y1="228.10" x2="502.90" y2="228.10" stroke="#111111" stroke-width="1.0" />
<circle cx="494.40" cy="223.90" r="0.95" fill="#1a1a1a"/>
<path d="M486.20,240.70 C486.24,241.58 486.35,244.23 486.45,246.00 C486.55,247.77 486.48,249.68 486.80,251.30 C487.12,252.92 487.85,254.05 488.40,255.70 C488.95,257.35 489.66,259.15 490.10,261.20 C490.54,263.25 490.93,265.68 491.05,268.00 C491.17,270.32 491.01,273.00 490.80,275.10 C490.59,277.20 490.15,278.75 489.80,280.60 C489.45,282.45 489.07,284.35 488.70,286.20 C488.33,288.05 488.02,289.48 487.60,291.70 C487.18,293.92 486.67,299.50 486.20,299.50 C485.73,299.50 485.22,293.92 484.80,291.70 C484.38,289.48 484.07,288.05 483.70,286.20 C483.33,284.35 482.95,282.45 482.60,280.60 C482.25,278.75 481.81,277.20 481.60,275.10 C481.39,273.00 481.23,270.32 481.35,268.00 C481.47,265.68 481.86,263.25 482.30,261.20 C482.74,259.15 483.45,257.35 484.00,255.70 C484.55,254.05 485.27,252.92 485.60,251.30 C485.92,249.68 485.85,247.77 485.95,246.00 C486.05,244.23 486.16,241.58 486.20,240.70 Z" fill="#552a6e" stroke="#111" stroke-width="0.9" stroke-linejoin="round"/>
<path d="M502.80,232.40 C502.85,233.17 502.97,235.52 503.10,237.00 C503.23,238.48 503.37,240.03 503.60,241.30 C503.83,242.57 504.17,243.12 504.50,244.60 C504.83,246.08 505.30,248.35 505.60,250.20 C505.90,252.05 506.07,253.40 506.30,255.70 C506.53,258.00 506.87,261.70 507.00,264.00 C507.13,266.30 507.13,267.65 507.10,269.50 C507.07,271.35 507.02,273.25 506.80,275.10 C506.58,276.95 506.15,278.75 505.80,280.60 C505.45,282.45 505.20,284.43 504.70,286.20 C504.20,287.97 503.43,291.20 502.80,291.20 C502.17,291.20 501.40,287.97 500.90,286.20 C500.40,284.43 500.15,282.45 499.80,280.60 C499.45,278.75 499.02,276.95 498.80,275.10 C498.58,273.25 498.53,271.35 498.50,269.50 C498.47,267.65 498.47,266.30 498.60,264.00 C498.73,261.70 499.07,258.00 499.30,255.70 C499.53,253.40 499.70,252.05 500.00,250.20 C500.30,248.35 500.77,246.08 501.10,244.60 C501.43,243.12 501.77,242.57 502.00,241.30 C502.23,240.03 502.37,238.48 502.50,237.00 C502.63,235.52 502.75,233.17 502.80,232.40 Z" fill="#c8001c" stroke="#111" stroke-width="0.9" stroke-linejoin="round"/>
<g transform="translate(457.80,266.90) rotate(-90)"><text x="0" y="0" font-size="9.2" font-weight="normal" font-style="normal" fill="#1a1a1a" text-anchor="middle" textLength="41.40" lengthAdjust="spacingAndGlyphs" stroke="#1c1c1c" stroke-width="0.35">TF motif score</text></g>
<g transform="translate(490.9,325.3) rotate(-45)"><text x="0" y="0" font-size="8.2" text-anchor="end" fill="#1c1c1c">WT</text></g>
<g transform="translate(507.0,324.6) rotate(-45)"><text x="0" y="0" font-size="8.2" font-style="italic" text-anchor="end" fill="#1c1c1c">gata2b<tspan font-size="5.5" dy="-3">ko</tspan></text></g>
<text x="74.62" y="215.30" font-size="9.5" font-weight="normal" font-style="normal" fill="#1a1a1a" text-anchor="start" textLength="66.64" lengthAdjust="spacingAndGlyphs"  stroke="#1a1a1a" stroke-width="0.12">B cell precursor</text>
<line x1="104.80" y1="225.80" x2="104.80" y2="313.00" stroke="#c4c4c4" stroke-width="1.0" />
<line x1="104.80" y1="225.80" x2="104.80" y2="313.00" stroke="#6a6a6a" stroke-width="0.95" stroke-dasharray="1.3,1.2"/>
<line x1="40.20" y1="301.90" x2="169.20" y2="301.90" stroke="#b4b4b4" stroke-width="1.4" />
<line x1="40.20" y1="301.90" x2="169.20" y2="301.90" stroke="#6c6c6c" stroke-width="1.2" stroke-dasharray="1.3,1.2"/>
<line x1="40.20" y1="220.80" x2="40.20" y2="313.60" stroke="#111111" stroke-width="1.3" />
<line x1="39.70" y1="313.10" x2="175.80" y2="313.10" stroke="#111111" stroke-width="1.3" />
<line x1="37.20" y1="312.90" x2="40.20" y2="312.90" stroke="#111111" stroke-width="0.9" />
<text x="33.60" y="315.85" font-size="8.3" font-weight="normal" font-style="normal" fill="#1a1a1a" text-anchor="end"  stroke="#1a1a1a" stroke-width="0.12">0</text>
<line x1="37.20" y1="284.55" x2="40.20" y2="284.55" stroke="#111111" stroke-width="0.9" />
<text x="33.60" y="287.50" font-size="8.3" font-weight="normal" font-style="normal" fill="#1a1a1a" text-anchor="end"  stroke="#1a1a1a" stroke-width="0.12">5</text>
<line x1="37.20" y1="256.20" x2="40.20" y2="256.20" stroke="#111111" stroke-width="0.9" />
<text x="33.60" y="259.15" font-size="8.3" font-weight="normal" font-style="normal" fill="#1a1a1a" text-anchor="end"  stroke="#1a1a1a" stroke-width="0.12">10</text>
<line x1="37.20" y1="227.85" x2="40.20" y2="227.85" stroke="#111111" stroke-width="0.9" />
<text x="33.60" y="230.80" font-size="8.3" font-weight="normal" font-style="normal" fill="#1a1a1a" text-anchor="end"  stroke="#1a1a1a" stroke-width="0.12">15</text>
<line x1="40.00" y1="313.10" x2="40.00" y2="316.10" stroke="#111111" stroke-width="0.9" />
<line x1="104.60" y1="313.10" x2="104.60" y2="316.10" stroke="#111111" stroke-width="0.9" />
<line x1="169.20" y1="313.10" x2="169.20" y2="316.10" stroke="#111111" stroke-width="0.9" />
<text x="39.40" y="326.30" font-size="8.3" font-weight="normal" font-style="normal" fill="#1a1a1a" text-anchor="middle"  stroke="#1a1a1a" stroke-width="0.12">-1</text>
<text x="104.80" y="326.30" font-size="8.3" font-weight="normal" font-style="normal" fill="#1a1a1a" text-anchor="middle"  stroke="#1a1a1a" stroke-width="0.12">0</text>
<text x="169.60" y="326.30" font-size="8.3" font-weight="normal" font-style="normal" fill="#1a1a1a" text-anchor="middle"  stroke="#1a1a1a" stroke-width="0.12">1</text>
<text x="44.57" y="338.90" font-size="7.8" font-weight="normal" font-style="normal" fill="#1a1a1a" text-anchor="start" textLength="44.44" lengthAdjust="spacingAndGlyphs"  stroke="#1a1a1a" stroke-width="0.12">WT-enriched</text>
<line x1="101.00" y1="336.20" x2="95.02" y2="336.20" stroke="#1a1a1a" stroke-width="0.95" />
<path d="M92.30,336.20 L95.70,334.70 L95.70,337.70 Z" fill="#1a1a1a"/>
<line x1="108.90" y1="336.20" x2="114.98" y2="336.20" stroke="#1a1a1a" stroke-width="0.95" />
<path d="M117.70,336.20 L114.30,334.70 L114.30,337.70 Z" fill="#1a1a1a"/>
<text x="120.56" y="338.90" font-size="7.8" font-weight="normal" font-style="normal" fill="#1a1a1a" text-anchor="start" textLength="44.54" lengthAdjust="spacingAndGlyphs"  stroke="#1a1a1a" stroke-width="0.12">KO-enriched</text>
<text x="83.28" y="351.80" font-size="9.8" font-weight="normal" font-style="normal" fill="#1a1a1a" text-anchor="start" textLength="42.96" lengthAdjust="spacingAndGlyphs" stroke="#1c1c1c" stroke-width="0.45">TF motif score</text>
<g transform="translate(15.60,266.80) rotate(-90)"><text x="0" y="0" font-size="10.4" font-weight="normal" font-style="normal" fill="#1a1a1a" text-anchor="middle" textLength="44.70" lengthAdjust="spacingAndGlyphs" stroke="#1c1c1c" stroke-width="0.3">-log<tspan font-size="6" dy="2">10</tspan><tspan dy="-2">(p-value)</tspan></text></g>
<path d="M86.6,302.5 Q96,310 104.8,313.0 Q112.4,311 120.3,302.2" fill="none" stroke="#4a1d74" stroke-width="2.2" stroke-linecap="round" stroke-linejoin="round"/>
<circle cx="94.98" cy="307.96" r="0.95" fill="#4a1d74"/>
<circle cx="111.94" cy="309.51" r="0.95" fill="#4a1d74"/>
<circle cx="95.99" cy="308.86" r="0.95" fill="#4a1d74"/>
<circle cx="112.66" cy="309.10" r="0.95" fill="#4a1d74"/>
<circle cx="98.20" cy="310.18" r="0.95" fill="#4a1d74"/>
<circle cx="109.44" cy="311.11" r="0.95" fill="#4a1d74"/>
<circle cx="88.30" cy="304.00" r="0.95" fill="#4a1d74"/>
<circle cx="105.44" cy="312.80" r="0.95" fill="#4a1d74"/>
<circle cx="104.49" cy="312.90" r="0.95" fill="#4a1d74"/>
<circle cx="114.27" cy="307.88" r="0.95" fill="#4a1d74"/>
<circle cx="89.55" cy="305.11" r="0.95" fill="#4a1d74"/>
<circle cx="105.71" cy="312.74" r="0.95" fill="#4a1d74"/>
<circle cx="90.15" cy="305.19" r="0.95" fill="#4a1d74"/>
<circle cx="111.92" cy="309.73" r="0.95" fill="#4a1d74"/>
<circle cx="94.77" cy="308.36" r="0.95" fill="#4a1d74"/>
<circle cx="114.66" cy="307.39" r="0.95" fill="#4a1d74"/>
<circle cx="95.85" cy="308.77" r="0.95" fill="#4a1d74"/>
<circle cx="109.05" cy="311.26" r="0.95" fill="#4a1d74"/>
<circle cx="104.76" cy="312.99" r="0.95" fill="#4a1d74"/>
<circle cx="115.71" cy="306.75" r="0.95" fill="#4a1d74"/>
<circle cx="92.47" cy="306.81" r="0.95" fill="#4a1d74"/>
<circle cx="105.87" cy="312.71" r="0.95" fill="#4a1d74"/>
<circle cx="100.65" cy="311.22" r="0.95" fill="#4a1d74"/>
<circle cx="110.72" cy="310.61" r="0.95" fill="#4a1d74"/>
<circle cx="104.06" cy="312.74" r="0.95" fill="#4a1d74"/>
<circle cx="108.00" cy="311.86" r="0.95" fill="#4a1d74"/>
<circle cx="103.22" cy="312.34" r="0.95" fill="#4a1d74"/>
<circle cx="110.89" cy="310.42" r="0.95" fill="#4a1d74"/>
<circle cx="87.97" cy="303.18" r="0.95" fill="#4a1d74"/>
<circle cx="108.92" cy="311.29" r="0.95" fill="#4a1d74"/>
<circle cx="88.23" cy="303.36" r="0.95" fill="#4a1d74"/>
<circle cx="116.49" cy="306.74" r="0.95" fill="#4a1d74"/>
<circle cx="88.81" cy="304.21" r="0.95" fill="#4a1d74"/>
<circle cx="105.71" cy="312.75" r="0.95" fill="#4a1d74"/>
<circle cx="101.20" cy="311.64" r="0.95" fill="#4a1d74"/>
<circle cx="111.66" cy="310.05" r="0.95" fill="#4a1d74"/>
<circle cx="90.16" cy="305.18" r="0.95" fill="#4a1d74"/>
<circle cx="114.71" cy="307.47" r="0.95" fill="#4a1d74"/>
<circle cx="88.78" cy="304.00" r="0.95" fill="#4a1d74"/>
<circle cx="108.92" cy="311.46" r="0.95" fill="#4a1d74"/>
<circle cx="104.29" cy="312.82" r="0.95" fill="#4a1d74"/>
<circle cx="118.48" cy="303.85" r="0.95" fill="#4a1d74"/>
<circle cx="90.53" cy="305.03" r="0.95" fill="#4a1d74"/>
<circle cx="114.68" cy="307.94" r="0.95" fill="#4a1d74"/>
<circle cx="88.48" cy="304.18" r="0.95" fill="#4a1d74"/>
<circle cx="108.75" cy="311.51" r="0.95" fill="#4a1d74"/>
<circle cx="100.77" cy="311.37" r="0.95" fill="#4a1d74"/>
<circle cx="105.92" cy="312.69" r="0.95" fill="#4a1d74"/>
<circle cx="88.29" cy="303.61" r="0.95" fill="#4a1d74"/>
<circle cx="114.05" cy="308.05" r="0.95" fill="#4a1d74"/>
<circle cx="93.51" cy="306.92" r="0.95" fill="#4a1d74"/>
<circle cx="112.22" cy="309.62" r="0.95" fill="#4a1d74"/>
<circle cx="97.20" cy="309.70" r="0.95" fill="#4a1d74"/>
<circle cx="107.15" cy="312.19" r="0.95" fill="#4a1d74"/>
<circle cx="103.18" cy="312.42" r="0.95" fill="#4a1d74"/>
<circle cx="107.70" cy="311.94" r="0.95" fill="#4a1d74"/>
<circle cx="100.17" cy="311.19" r="0.95" fill="#4a1d74"/>
<circle cx="119.51" cy="302.97" r="0.95" fill="#4a1d74"/>
<circle cx="102.72" cy="312.20" r="0.95" fill="#4a1d74"/>
<circle cx="106.38" cy="312.49" r="0.95" fill="#4a1d74"/>
<circle cx="87.33" cy="303.32" r="0.95" fill="#4a1d74"/>
<circle cx="115.66" cy="306.76" r="0.95" fill="#4a1d74"/>
<circle cx="91.39" cy="306.21" r="0.95" fill="#4a1d74"/>
<circle cx="109.29" cy="311.10" r="0.95" fill="#4a1d74"/>
<circle cx="89.88" cy="304.97" r="0.95" fill="#4a1d74"/>
<circle cx="108.29" cy="311.70" r="0.95" fill="#4a1d74"/>
<circle cx="96.93" cy="309.61" r="0.95" fill="#4a1d74"/>
<circle cx="109.08" cy="311.22" r="0.95" fill="#4a1d74"/>
<circle cx="103.34" cy="312.47" r="0.95" fill="#4a1d74"/>
<circle cx="108.91" cy="311.45" r="0.95" fill="#4a1d74"/>
<circle cx="94.86" cy="308.40" r="0.95" fill="#4a1d74"/>
<circle cx="110.45" cy="310.63" r="0.95" fill="#4a1d74"/>
<circle cx="97.16" cy="309.71" r="0.95" fill="#4a1d74"/>
<circle cx="118.58" cy="304.29" r="0.95" fill="#4a1d74"/>
<circle cx="104.46" cy="312.88" r="0.95" fill="#4a1d74"/>
<circle cx="113.79" cy="308.04" r="0.95" fill="#4a1d74"/>
<circle cx="89.23" cy="304.57" r="0.95" fill="#4a1d74"/>
<circle cx="118.88" cy="303.74" r="0.95" fill="#4a1d74"/>
<circle cx="99.48" cy="310.82" r="0.95" fill="#4a1d74"/>
<circle cx="114.59" cy="307.69" r="0.95" fill="#4a1d74"/>
<circle cx="95.53" cy="308.67" r="0.95" fill="#4a1d74"/>
<circle cx="120.29" cy="301.86" r="0.95" fill="#4a1d74"/>
<circle cx="88.01" cy="303.10" r="0.95" fill="#4a1d74"/>
<circle cx="118.73" cy="303.72" r="0.95" fill="#4a1d74"/>
<circle cx="100.13" cy="311.06" r="0.95" fill="#4a1d74"/>
<circle cx="118.96" cy="303.02" r="0.95" fill="#4a1d74"/>
<circle cx="93.14" cy="307.03" r="0.95" fill="#4a1d74"/>
<circle cx="118.27" cy="303.67" r="0.95" fill="#4a1d74"/>
<circle cx="94.34" cy="308.08" r="0.95" fill="#4a1d74"/>
<circle cx="113.61" cy="308.04" r="0.95" fill="#4a1d74"/>
<circle cx="84.80" cy="304.20" r="1.0" fill="#4a1d74"/>
<circle cx="85.80" cy="303.60" r="1.0" fill="#4a1d74"/>
<circle cx="78.50" cy="291.50" r="1.4300000000000002" fill="#a0002a"/>
<circle cx="79.20" cy="293.00" r="1.32" fill="#a0002a"/>
<circle cx="78.20" cy="295.40" r="1.32" fill="#a0002a"/>
<circle cx="80.80" cy="294.60" r="1.1" fill="#a0002a"/>
<circle cx="81.50" cy="296.20" r="1.1" fill="#a0002a"/>
<circle cx="79.80" cy="294.00" r="1.2100000000000002" fill="#a0002a"/>
<circle cx="75.00" cy="292.30" r="0.66" fill="#a0002a"/>
<circle cx="85.00" cy="299.20" r="1.2100000000000002" fill="#a0002a"/>
<circle cx="84.60" cy="302.00" r="1.4300000000000002" fill="#a0002a"/>
<circle cx="85.50" cy="300.50" r="1.2100000000000002" fill="#a0002a"/>
<circle cx="86.50" cy="301.50" r="1.2100000000000002" fill="#a0002a"/>
<circle cx="83.50" cy="303.30" r="0.9900000000000001" fill="#a0002a"/>
<circle cx="120.60" cy="302.30" r="1.2100000000000002" fill="#a0002a"/>
<circle cx="122.30" cy="303.50" r="1.2100000000000002" fill="#a0002a"/>
<circle cx="122.80" cy="302.60" r="1.1" fill="#a0002a"/>
<circle cx="122.00" cy="300.00" r="1.1" fill="#a0002a"/>
<circle cx="123.50" cy="298.80" r="1.1" fill="#a0002a"/>
<circle cx="123.50" cy="297.90" r="0.9900000000000001" fill="#a0002a"/>
<circle cx="125.00" cy="297.00" r="0.9900000000000001" fill="#a0002a"/>
<circle cx="125.20" cy="296.00" r="0.9900000000000001" fill="#a0002a"/>
<circle cx="126.20" cy="295.20" r="1.2100000000000002" fill="#a0002a"/>
<circle cx="126.30" cy="294.20" r="0.9900000000000001" fill="#a0002a"/>
<circle cx="128.80" cy="289.80" r="0.9900000000000001" fill="#a0002a"/>
<circle cx="130.20" cy="288.20" r="0.9900000000000001" fill="#a0002a"/>
<circle cx="128.70" cy="289.60" r="0.8800000000000001" fill="#a0002a"/>
<circle cx="131.30" cy="284.40" r="1.4850000000000003" fill="#a0002a"/>
<circle cx="134.90" cy="284.20" r="1.4850000000000003" fill="#a0002a"/>
<circle cx="133.60" cy="280.10" r="1.4850000000000003" fill="#a0002a"/>
<circle cx="130.40" cy="286.20" r="0.8800000000000001" fill="#a0002a"/>
<circle cx="132.50" cy="285.00" r="1.2100000000000002" fill="#a0002a"/>
<circle cx="137.80" cy="275.30" r="1.4300000000000002" fill="#a0002a"/>
<circle cx="138.60" cy="269.60" r="0.66" fill="#a0002a"/>
<circle cx="138.30" cy="271.60" r="0.66" fill="#a0002a"/>
<circle cx="153.20" cy="246.60" r="1.815" fill="#a0002a"/>
<text x="51.67" y="290.80" font-size="7.7" font-weight="normal" font-style="normal" fill="#1a1a1a" text-anchor="start" textLength="24.11" lengthAdjust="spacingAndGlyphs"  stroke="#1a1a1a" stroke-width="0.12">FOXK1</text>
<text x="57.03" y="299.70" font-size="7.7" font-weight="normal" font-style="normal" fill="#1a1a1a" text-anchor="start" textLength="18.31" lengthAdjust="spacingAndGlyphs"  stroke="#1a1a1a" stroke-width="0.12">TCF3</text>
<text x="61.17" y="308.50" font-size="7.7" font-weight="normal" font-style="normal" fill="#1a1a1a" text-anchor="start" textLength="19.45" lengthAdjust="spacingAndGlyphs"  stroke="#1a1a1a" stroke-width="0.12">PAX5</text>
<text x="142.61" y="256.30" font-size="7.7" font-weight="normal" font-style="normal" fill="#1a1a1a" text-anchor="start" textLength="26.30" lengthAdjust="spacingAndGlyphs"  stroke="#1a1a1a" stroke-width="0.12">CEBPB</text>
<text x="140.11" y="276.60" font-size="7.7" font-weight="normal" font-style="normal" fill="#1a1a1a" text-anchor="start" textLength="24.51" lengthAdjust="spacingAndGlyphs"  stroke="#1a1a1a" stroke-width="0.12">CEBPA</text>
<text x="106.06" y="278.00" font-size="7.7" font-weight="normal" font-style="normal" fill="#1a1a1a" text-anchor="start" textLength="28.38" lengthAdjust="spacingAndGlyphs"  stroke="#1a1a1a" stroke-width="0.12">ZNF148</text>
<text x="114.25" y="286.30" font-size="7.7" font-weight="normal" font-style="normal" fill="#1a1a1a" text-anchor="start" textLength="14.74" lengthAdjust="spacingAndGlyphs"  stroke="#1a1a1a" stroke-width="0.12">SP2</text>
<text x="136.29" y="285.80" font-size="7.7" font-weight="normal" font-style="normal" fill="#1a1a1a" text-anchor="start" textLength="16.34" lengthAdjust="spacingAndGlyphs"  stroke="#1a1a1a" stroke-width="0.12">IRF4</text>
<text x="131.28" y="292.80" font-size="7.7" font-weight="normal" font-style="normal" fill="#1a1a1a" text-anchor="start" textLength="17.34" lengthAdjust="spacingAndGlyphs"  stroke="#1a1a1a" stroke-width="0.12">ATF4</text>
<text x="124.47" y="304.90" font-size="7.7" font-weight="normal" font-style="normal" fill="#1a1a1a" text-anchor="start" textLength="29.65" lengthAdjust="spacingAndGlyphs"  stroke="#1a1a1a" stroke-width="0.12">BCL11A</text>
<text x="285.01" y="210.00" font-size="9.6" font-weight="normal" font-style="normal" fill="#1a1a1a" text-anchor="start" textLength="72.31" lengthAdjust="spacingAndGlyphs"  stroke="#1a1a1a" stroke-width="0.12">Lymphoid lineage</text>
<line x1="229.60" y1="219.20" x2="229.60" y2="313.70" stroke="#111111" stroke-width="1.3" />
<line x1="229.10" y1="313.20" x2="307.70" y2="313.20" stroke="#111111" stroke-width="1.3" />
<line x1="226.60" y1="235.80" x2="229.60" y2="235.80" stroke="#111111" stroke-width="0.9" />
<text x="223.40" y="238.70" font-size="8.2" font-weight="normal" font-style="normal" fill="#1a1a1a" text-anchor="end"  stroke="#1a1a1a" stroke-width="0.12">10</text>
<line x1="226.60" y1="252.95" x2="229.60" y2="252.95" stroke="#111111" stroke-width="0.9" />
<text x="223.40" y="255.85" font-size="8.2" font-weight="normal" font-style="normal" fill="#1a1a1a" text-anchor="end"  stroke="#1a1a1a" stroke-width="0.12">5</text>
<line x1="226.60" y1="270.10" x2="229.60" y2="270.10" stroke="#111111" stroke-width="0.9" />
<text x="223.40" y="273.00" font-size="8.2" font-weight="normal" font-style="normal" fill="#1a1a1a" text-anchor="end"  stroke="#1a1a1a" stroke-width="0.12">0</text>
<line x1="226.60" y1="287.25" x2="229.60" y2="287.25" stroke="#111111" stroke-width="0.9" />
<text x="223.40" y="290.15" font-size="8.2" font-weight="normal" font-style="normal" fill="#1a1a1a" text-anchor="end"  stroke="#1a1a1a" stroke-width="0.12">-5</text>
<line x1="226.60" y1="304.40" x2="229.60" y2="304.40" stroke="#111111" stroke-width="0.9" />
<text x="223.40" y="307.30" font-size="8.2" font-weight="normal" font-style="normal" fill="#1a1a1a" text-anchor="end"  stroke="#1a1a1a" stroke-width="0.12">-10</text>
<line x1="231.65" y1="313.20" x2="231.65" y2="316.20" stroke="#111111" stroke-width="0.9" />
<text x="231.65" y="326.40" font-size="8.2" font-weight="normal" font-style="normal" fill="#1a1a1a" text-anchor="middle"  stroke="#1a1a1a" stroke-width="0.12">-5</text>
<line x1="251.70" y1="313.20" x2="251.70" y2="316.20" stroke="#111111" stroke-width="0.9" />
<text x="251.70" y="326.40" font-size="8.2" font-weight="normal" font-style="normal" fill="#1a1a1a" text-anchor="middle"  stroke="#1a1a1a" stroke-width="0.12">0</text>
<line x1="271.75" y1="313.20" x2="271.75" y2="316.20" stroke="#111111" stroke-width="0.9" />
<text x="271.75" y="326.40" font-size="8.2" font-weight="normal" font-style="normal" fill="#1a1a1a" text-anchor="middle"  stroke="#1a1a1a" stroke-width="0.12">5</text>
<line x1="291.80" y1="313.20" x2="291.80" y2="316.20" stroke="#111111" stroke-width="0.9" />
<text x="291.80" y="326.40" font-size="8.2" font-weight="normal" font-style="normal" fill="#1a1a1a" text-anchor="middle"  stroke="#1a1a1a" stroke-width="0.12">10</text>
<line x1="335.10" y1="219.20" x2="335.10" y2="313.70" stroke="#111111" stroke-width="1.3" />
<line x1="334.60" y1="313.20" x2="413.50" y2="313.20" stroke="#111111" stroke-width="1.3" />
<line x1="332.10" y1="235.80" x2="335.10" y2="235.80" stroke="#111111" stroke-width="0.9" />
<text x="328.90" y="238.70" font-size="8.2" font-weight="normal" font-style="normal" fill="#1a1a1a" text-anchor="end"  stroke="#1a1a1a" stroke-width="0.12">10</text>
<line x1="332.10" y1="252.95" x2="335.10" y2="252.95" stroke="#111111" stroke-width="0.9" />
<text x="328.90" y="255.85" font-size="8.2" font-weight="normal" font-style="normal" fill="#1a1a1a" text-anchor="end"  stroke="#1a1a1a" stroke-width="0.12">5</text>
<line x1="332.10" y1="270.10" x2="335.10" y2="270.10" stroke="#111111" stroke-width="0.9" />
<text x="328.90" y="273.00" font-size="8.2" font-weight="normal" font-style="normal" fill="#1a1a1a" text-anchor="end"  stroke="#1a1a1a" stroke-width="0.12">0</text>
<line x1="332.10" y1="287.25" x2="335.10" y2="287.25" stroke="#111111" stroke-width="0.9" />
<text x="328.90" y="290.15" font-size="8.2" font-weight="normal" font-style="normal" fill="#1a1a1a" text-anchor="end"  stroke="#1a1a1a" stroke-width="0.12">-5</text>
<line x1="332.10" y1="304.40" x2="335.10" y2="304.40" stroke="#111111" stroke-width="0.9" />
<text x="328.90" y="307.30" font-size="8.2" font-weight="normal" font-style="normal" fill="#1a1a1a" text-anchor="end"  stroke="#1a1a1a" stroke-width="0.12">-10</text>
<line x1="337.15" y1="313.20" x2="337.15" y2="316.20" stroke="#111111" stroke-width="0.9" />
<text x="337.15" y="326.40" font-size="8.2" font-weight="normal" font-style="normal" fill="#1a1a1a" text-anchor="middle"  stroke="#1a1a1a" stroke-width="0.12">-5</text>
<line x1="357.50" y1="313.20" x2="357.50" y2="316.20" stroke="#111111" stroke-width="0.9" />
<text x="357.50" y="326.40" font-size="8.2" font-weight="normal" font-style="normal" fill="#1a1a1a" text-anchor="middle"  stroke="#1a1a1a" stroke-width="0.12">0</text>
<line x1="377.85" y1="313.20" x2="377.85" y2="316.20" stroke="#111111" stroke-width="0.9" />
<text x="377.85" y="326.40" font-size="8.2" font-weight="normal" font-style="normal" fill="#1a1a1a" text-anchor="middle"  stroke="#1a1a1a" stroke-width="0.12">5</text>
<line x1="398.20" y1="313.20" x2="398.20" y2="316.20" stroke="#111111" stroke-width="0.9" />
<text x="398.20" y="326.40" font-size="8.2" font-weight="normal" font-style="normal" fill="#1a1a1a" text-anchor="middle"  stroke="#1a1a1a" stroke-width="0.12">10</text>
<text x="232.57" y="225.00" font-size="7.8" font-weight="normal" font-style="normal" fill="#1a1a1a" text-anchor="start" textLength="12.11" lengthAdjust="spacingAndGlyphs"  stroke="#1a1a1a" stroke-width="0.12">WT</text>
<text x="339.88" y="225.60" font-size="7.9" font-weight="normal" font-style="italic" fill="#1a1a1a" text-anchor="start" textLength="24.86" lengthAdjust="spacingAndGlyphs"  stroke="#1a1a1a" stroke-width="0.12">gata2b</text>
<text x="364.81" y="221.70" font-size="5.2" font-weight="normal" font-style="italic" fill="#1a1a1a" text-anchor="start" textLength="5.55" lengthAdjust="spacingAndGlyphs"  stroke="#1a1a1a" stroke-width="0.12">ko</text>
<line x1="205.50" y1="332.70" x2="205.50" y2="289.80" stroke="#1a1a1a" stroke-width="1.0" />
<path d="M205.50,285.80 L203.40,290.80 L207.60,290.80 Z" fill="#1a1a1a"/>
<line x1="205.00" y1="332.70" x2="249.60" y2="332.70" stroke="#1a1a1a" stroke-width="1.0" />
<path d="M253.60,332.70 L248.60,330.60 L248.60,334.80 Z" fill="#1a1a1a"/>
<text x="212.98" y="345.00" font-size="9.3" font-weight="normal" font-style="normal" fill="#1a1a1a" text-anchor="start" textLength="24.97" lengthAdjust="spacingAndGlyphs" stroke="#1c1c1c" stroke-width="0.5">UMAP-1</text>
<g transform="translate(199.70,306.00) rotate(-90)"><text x="0" y="0" font-size="9.3" font-weight="normal" font-style="normal" fill="#1a1a1a" text-anchor="middle" textLength="24.80" lengthAdjust="spacingAndGlyphs" stroke="#1c1c1c" stroke-width="0.5">UMAP-2</text></g>
<circle cx="235.30" cy="232.50" r="1.2" fill="#c4ced8"/>
<circle cx="261.20" cy="230.30" r="1.2" fill="#c4ced8"/>
<ellipse cx="280" cy="231" rx="4.3" ry="2.6" transform="rotate(-28 280 231)" fill="#4a72c8"/>
<ellipse cx="279.9" cy="230.8" rx="5.5" ry="5.1" fill="none" stroke="#5ca552" stroke-width="1.1"/>
<text x="286.98" y="233.50" font-size="7.6" font-weight="normal" font-style="normal" fill="#5ca552" text-anchor="start" textLength="9.12" lengthAdjust="spacingAndGlyphs"  stroke="#5ca552" stroke-width="0.12">LP</text>
<circle cx="253.60" cy="251.20" r="1.1" fill="#dce8f0"/>
<circle cx="254.80" cy="252.60" r="1.1" fill="#d0e2f0"/>
<circle cx="256.50" cy="254.50" r="1.1" fill="#e8eef0"/>
<circle cx="260.50" cy="246.60" r="1.1" fill="#c8def0"/>
<circle cx="265.50" cy="254.50" r="1.1" fill="#d8e6f0"/>
<polygon points="252.6,249.2 254.8,246.4 258.8,245.8 261.8,247.6 262.4,251 261.2,254.2 259.4,257.2 257.4,256.4 255.6,252.2 252.8,251.2" fill="#f4ac2a" stroke="#f4ac2a" stroke-width="1" stroke-linejoin="round"/>
<circle cx="258.82" cy="251.26" r="1.0" fill="#f8c040"/>
<circle cx="262.30" cy="251.21" r="1.0" fill="#fbd060"/>
<circle cx="261.74" cy="250.68" r="1.0" fill="#f8c040"/>
<circle cx="260.38" cy="248.45" r="1.0" fill="#f8c040"/>
<circle cx="259.40" cy="250.78" r="1.0" fill="#ee9a20"/>
<circle cx="260.15" cy="250.44" r="1.0" fill="#f7b830"/>
<circle cx="252.93" cy="249.55" r="1.0" fill="#f7b830"/>
<circle cx="259.40" cy="253.20" r="1.0" fill="#f2a020"/>
<circle cx="259.74" cy="250.38" r="1.0" fill="#f8c040"/>
<circle cx="261.09" cy="248.48" r="1.0" fill="#f8c040"/>
<circle cx="260.08" cy="252.42" r="1.0" fill="#ee9a20"/>
<circle cx="258.08" cy="250.22" r="1.0" fill="#f2a020"/>
<circle cx="256.61" cy="249.96" r="1.0" fill="#f7b830"/>
<circle cx="257.51" cy="249.42" r="1.0" fill="#f7b830"/>
<circle cx="257.42" cy="252.07" r="1.0" fill="#ee9a20"/>
<circle cx="257.72" cy="252.32" r="1.0" fill="#f2a020"/>
<circle cx="258.05" cy="252.90" r="1.0" fill="#f8c040"/>
<circle cx="259.16" cy="252.94" r="1.0" fill="#f2a020"/>
<circle cx="256.00" cy="252.61" r="1.0" fill="#f2a020"/>
<circle cx="255.01" cy="247.72" r="1.0" fill="#f8c040"/>
<circle cx="260.21" cy="250.07" r="1.0" fill="#ee9a20"/>
<circle cx="259.05" cy="248.55" r="1.0" fill="#f8c040"/>
<circle cx="261.26" cy="251.40" r="1.0" fill="#f7b830"/>
<circle cx="259.14" cy="256.47" r="1.0" fill="#f8c040"/>
<circle cx="260.49" cy="254.62" r="1.0" fill="#f7b830"/>
<circle cx="253.16" cy="249.08" r="1.0" fill="#f2a020"/>
<circle cx="259.05" cy="246.20" r="1.0" fill="#f8c040"/>
<circle cx="257.29" cy="248.68" r="1.0" fill="#ee9a20"/>
<circle cx="257.75" cy="254.11" r="1.0" fill="#f5a820"/>
<circle cx="256.18" cy="247.55" r="1.0" fill="#f2a020"/>
<circle cx="258.49" cy="250.66" r="1.0" fill="#fbd060"/>
<circle cx="261.45" cy="251.24" r="1.0" fill="#f8c040"/>
<circle cx="257.84" cy="248.95" r="1.0" fill="#ee9a20"/>
<circle cx="258.42" cy="253.14" r="1.0" fill="#fbd060"/>
<circle cx="256.73" cy="253.59" r="1.0" fill="#f8c040"/>
<circle cx="256.98" cy="247.41" r="1.0" fill="#f5a820"/>
<circle cx="259.02" cy="247.24" r="1.0" fill="#fbd060"/>
<circle cx="261.83" cy="250.32" r="1.0" fill="#f8c040"/>
<circle cx="258.69" cy="247.87" r="1.0" fill="#f7b830"/>
<circle cx="260.02" cy="252.68" r="1.0" fill="#fbd060"/>
<circle cx="257.15" cy="246.52" r="1.0" fill="#fbd060"/>
<circle cx="255.67" cy="246.28" r="1.0" fill="#f7b830"/>
<circle cx="260.47" cy="251.39" r="1.0" fill="#fbd060"/>
<circle cx="257.58" cy="254.17" r="1.0" fill="#fbd060"/>
<circle cx="257.75" cy="252.19" r="1.0" fill="#f5a820"/>
<circle cx="258.64" cy="249.51" r="1.0" fill="#f8c040"/>
<circle cx="256.08" cy="249.43" r="1.0" fill="#f7b830"/>
<circle cx="260.05" cy="250.91" r="1.0" fill="#fbd060"/>
<circle cx="259.52" cy="251.17" r="1.0" fill="#fbd060"/>
<circle cx="256.42" cy="250.38" r="1.0" fill="#f8c040"/>
<circle cx="253.01" cy="248.94" r="1.0" fill="#fbd060"/>
<circle cx="260.61" cy="254.05" r="1.0" fill="#f7b830"/>
<circle cx="260.42" cy="250.35" r="1.0" fill="#f2a020"/>
<circle cx="257.37" cy="253.00" r="1.0" fill="#ee9a20"/>
<circle cx="253.44" cy="251.27" r="1.0" fill="#f7b830"/>
<polygon points="261.4,246.8 264.4,247.2 266,249.8 265.4,252.8 263,254.4 261.6,252" fill="#dc4a1e" stroke="#dc4a1e" stroke-width="0.8" stroke-linejoin="round"/>
<circle cx="263.12" cy="251.39" r="1.0" fill="#e05a20"/>
<circle cx="264.99" cy="251.56" r="1.0" fill="#f0c080"/>
<circle cx="264.47" cy="253.33" r="1.0" fill="#c83418"/>
<circle cx="263.18" cy="251.47" r="1.0" fill="#f0c080"/>
<circle cx="262.83" cy="249.77" r="1.0" fill="#e05a20"/>
<circle cx="261.82" cy="248.13" r="1.0" fill="#f0c080"/>
<circle cx="262.79" cy="253.97" r="1.0" fill="#e87a28"/>
<circle cx="262.17" cy="250.09" r="1.0" fill="#c83418"/>
<circle cx="263.11" cy="251.22" r="1.0" fill="#e05a20"/>
<circle cx="262.88" cy="248.73" r="1.0" fill="#e05a20"/>
<circle cx="265.54" cy="250.65" r="1.0" fill="#e05a20"/>
<circle cx="264.15" cy="248.91" r="1.0" fill="#e87a28"/>
<circle cx="262.12" cy="249.78" r="1.0" fill="#e87a28"/>
<circle cx="263.41" cy="251.49" r="1.0" fill="#c83418"/>
<circle cx="264.48" cy="251.87" r="1.0" fill="#f0c080"/>
<circle cx="262.65" cy="248.23" r="1.0" fill="#e05a20"/>
<circle cx="261.58" cy="251.42" r="1.0" fill="#e87a28"/>
<circle cx="263.90" cy="247.52" r="1.0" fill="#c83418"/>
<circle cx="259.26" cy="254.60" r="1.0" fill="#f8e0a0"/>
<circle cx="260.44" cy="253.33" r="1.0" fill="#fae8c0"/>
<circle cx="261.49" cy="252.87" r="1.0" fill="#f5c050"/>
<circle cx="260.75" cy="257.37" r="1.0" fill="#f5c050"/>
<circle cx="259.49" cy="256.93" r="1.0" fill="#fae8c0"/>
<circle cx="263.83" cy="252.70" r="1.0" fill="#f8e0a0"/>
<circle cx="262.93" cy="256.70" r="1.0" fill="#f5c050"/>
<circle cx="259.00" cy="255.29" r="1.0" fill="#fae8c0"/>
<circle cx="261.11" cy="256.92" r="1.0" fill="#f2a830"/>
<circle cx="259.01" cy="253.43" r="1.0" fill="#f2a830"/>
<circle cx="259.97" cy="255.99" r="1.0" fill="#f8e0a0"/>
<circle cx="262.41" cy="253.61" r="1.0" fill="#f8e0a0"/>
<circle cx="262.47" cy="253.62" r="1.0" fill="#f2a830"/>
<circle cx="260.33" cy="253.48" r="1.0" fill="#fae8c0"/>
<circle cx="259.82" cy="256.86" r="1.0" fill="#fae8c0"/>
<circle cx="259.04" cy="253.16" r="1.0" fill="#f2a830"/>
<ellipse cx="259.7" cy="250.9" rx="10.2" ry="7.0" fill="none" stroke="#b0a844" stroke-width="1.05"/>
<text x="271.36" y="252.40" font-size="7.8" font-weight="normal" font-style="normal" fill="#b0a850" text-anchor="start" textLength="22.12" lengthAdjust="spacingAndGlyphs"  stroke="#b0a850" stroke-width="0.12">B cells</text>
<ellipse cx="259.9" cy="263.6" rx="4.6" ry="3.8" fill="#c6dcee"/>
<circle cx="258.00" cy="262.50" r="1.4" fill="#c4dbee"/>
<circle cx="261.00" cy="262.00" r="1.4" fill="#eadcb4"/>
<circle cx="259.50" cy="264.50" r="1.4" fill="#e8dcb0"/>
<circle cx="257.50" cy="265.00" r="1.4" fill="#9cc4e8"/>
<circle cx="262.00" cy="265.00" r="1.4" fill="#9cc4e8"/>
<circle cx="260.00" cy="263.50" r="1.4" fill="#dfe6e0"/>
<circle cx="262.50" cy="262.80" r="1.4" fill="#e4dcc0"/>
<ellipse cx="259.9" cy="263.6" rx="5.3" ry="4.4" fill="none" stroke="#b868c0" stroke-width="1.05"/>
<text x="266.56" y="265.60" font-size="7.8" font-weight="normal" font-style="normal" fill="#b868c0" text-anchor="start" textLength="20.15" lengthAdjust="spacingAndGlyphs"  stroke="#b868c0" stroke-width="0.12">Bprec</text>
<ellipse cx="252.6" cy="270.5" rx="4.1" ry="2.5" transform="rotate(-18 252.6 270.5)" fill="#8cbcec"/>
<ellipse cx="252.6" cy="270.5" rx="4.9" ry="3.2" transform="rotate(-18 252.6 270.5)" fill="none" stroke="#eca440" stroke-width="1.1"/>
<text x="248.56" y="280.30" font-size="7.8" font-weight="normal" font-style="normal" fill="#e8a040" text-anchor="start" textLength="21.04" lengthAdjust="spacingAndGlyphs"  stroke="#e8a040" stroke-width="0.12">Bprog</text>
<circle cx="251.70" cy="259.30" r="1.2" fill="#84b6e6"/>
<circle cx="265.30" cy="258.80" r="1.2" fill="#84b6e6"/>
<circle cx="265.80" cy="266.50" r="1.2" fill="#84b6e6"/>
<circle cx="287.40" cy="267.20" r="1.2" fill="#84b6e6"/>
<circle cx="288.40" cy="268.40" r="1.2" fill="#84b6e6"/>
<circle cx="238.10" cy="274.50" r="1.2" fill="#84b6e6"/>
<circle cx="239.10" cy="275.50" r="1.2" fill="#84b6e6"/>
<circle cx="242.60" cy="274.10" r="1.2" fill="#84b6e6"/>
<circle cx="273.30" cy="281.30" r="1.2" fill="#84b6e6"/>
<circle cx="274.70" cy="282.00" r="1.2" fill="#84b6e6"/>
<circle cx="278.00" cy="280.80" r="1.2" fill="#84b6e6"/>
<circle cx="280.00" cy="279.70" r="1.2" fill="#84b6e6"/>
<circle cx="283.30" cy="275.00" r="1.2" fill="#84b6e6"/>
<circle cx="285.30" cy="274.70" r="1.2" fill="#84b6e6"/>
<circle cx="287.00" cy="273.30" r="1.2" fill="#84b6e6"/>
<circle cx="286.70" cy="275.80" r="1.2" fill="#84b6e6"/>
<circle cx="285.30" cy="285.50" r="1.2" fill="#84b6e6"/>
<circle cx="284.50" cy="276.00" r="1.2" fill="#84b6e6"/>
<ellipse cx="386.2" cy="230.9" rx="4.0" ry="2.0" transform="rotate(-30 386.2 230.9)" fill="#5a8ad6"/>
<circle cx="383.20" cy="232.60" r="1.1" fill="#7aa8e2"/>
<circle cx="384.60" cy="231.80" r="1.1" fill="#6896dc"/>
<circle cx="388.60" cy="229.20" r="1.1" fill="#4e7ed0"/>
<circle cx="389.40" cy="229.60" r="1.1" fill="#5684d2"/>
<circle cx="386.50" cy="230.20" r="1.1" fill="#4a7ace"/>
<ellipse cx="366.6" cy="261.6" rx="5.6" ry="5.2" fill="#f4dcaa"/>
<ellipse cx="364.3" cy="251.4" rx="8.2" ry="5.3" fill="#f2ae3a"/>
<circle cx="362.45" cy="253.81" r="0.95" fill="#f5b535"/>
<circle cx="372.32" cy="252.02" r="0.95" fill="#cc3a1e"/>
<circle cx="367.22" cy="247.24" r="0.95" fill="#e4701e"/>
<circle cx="362.63" cy="247.98" r="0.95" fill="#e4701e"/>
<circle cx="362.44" cy="252.76" r="0.95" fill="#f4c860"/>
<circle cx="359.22" cy="248.20" r="0.95" fill="#eca52a"/>
<circle cx="361.79" cy="248.05" r="0.95" fill="#f6c25a"/>
<circle cx="370.87" cy="253.41" r="0.95" fill="#eca52a"/>
<circle cx="368.42" cy="247.93" r="0.95" fill="#d64a1e"/>
<circle cx="361.45" cy="249.61" r="0.95" fill="#f6c25a"/>
<circle cx="364.03" cy="253.41" r="0.95" fill="#e4701e"/>
<circle cx="360.92" cy="247.72" r="0.95" fill="#f8cf6a"/>
<circle cx="357.16" cy="247.91" r="0.95" fill="#e4701e"/>
<circle cx="367.81" cy="246.75" r="0.95" fill="#d64a1e"/>
<circle cx="358.99" cy="251.06" r="0.95" fill="#e4701e"/>
<circle cx="363.37" cy="255.07" r="0.95" fill="#eca52a"/>
<circle cx="360.24" cy="256.08" r="0.95" fill="#eca52a"/>
<circle cx="366.33" cy="251.74" r="0.95" fill="#e4701e"/>
<circle cx="364.18" cy="252.69" r="0.95" fill="#eca52a"/>
<circle cx="364.09" cy="255.17" r="0.95" fill="#f2a030"/>
<circle cx="360.01" cy="254.79" r="0.95" fill="#f2a030"/>
<circle cx="361.67" cy="245.73" r="0.95" fill="#f6c25a"/>
<circle cx="365.81" cy="250.95" r="0.95" fill="#c8301a"/>
<circle cx="366.37" cy="248.08" r="0.95" fill="#f4c860"/>
<circle cx="370.84" cy="253.87" r="0.95" fill="#f2a030"/>
<circle cx="365.39" cy="251.76" r="0.95" fill="#f6c25a"/>
<circle cx="359.52" cy="247.94" r="0.95" fill="#f2a030"/>
<circle cx="360.96" cy="255.43" r="0.95" fill="#e4701e"/>
<circle cx="357.87" cy="247.08" r="0.95" fill="#e4701e"/>
<circle cx="368.68" cy="256.91" r="0.95" fill="#f6c25a"/>
<circle cx="365.76" cy="247.59" r="0.95" fill="#eca52a"/>
<circle cx="359.18" cy="248.55" r="0.95" fill="#f8cf6a"/>
<circle cx="359.13" cy="256.28" r="0.95" fill="#f8cf6a"/>
<circle cx="365.09" cy="248.51" r="0.95" fill="#f8cf6a"/>
<circle cx="368.51" cy="255.53" r="0.95" fill="#eca52a"/>
<circle cx="363.86" cy="255.53" r="0.95" fill="#f8cf6a"/>
<circle cx="360.08" cy="248.03" r="0.95" fill="#e4701e"/>
<circle cx="363.35" cy="254.09" r="0.95" fill="#f4c860"/>
<circle cx="359.29" cy="249.75" r="0.95" fill="#e4701e"/>
<circle cx="357.49" cy="248.19" r="0.95" fill="#f4c860"/>
<circle cx="371.16" cy="253.92" r="0.95" fill="#f2a030"/>
<circle cx="363.50" cy="253.43" r="0.95" fill="#f5b535"/>
<circle cx="362.89" cy="246.42" r="0.95" fill="#f5b535"/>
<circle cx="360.76" cy="251.29" r="0.95" fill="#eca52a"/>
<circle cx="360.32" cy="249.01" r="0.95" fill="#f4c860"/>
<circle cx="365.76" cy="250.44" r="0.95" fill="#e4701e"/>
<circle cx="370.48" cy="252.09" r="0.95" fill="#e4701e"/>
<circle cx="367.37" cy="254.09" r="0.95" fill="#eca52a"/>
<circle cx="362.11" cy="252.11" r="0.95" fill="#f8cf6a"/>
<circle cx="367.42" cy="251.83" r="0.95" fill="#eca52a"/>
<circle cx="362.54" cy="248.16" r="0.95" fill="#f4c860"/>
<circle cx="369.08" cy="246.18" r="0.95" fill="#f4c860"/>
<circle cx="359.74" cy="255.78" r="0.95" fill="#f6c25a"/>
<circle cx="367.61" cy="249.48" r="0.95" fill="#eca52a"/>
<circle cx="356.59" cy="248.58" r="0.95" fill="#f2a030"/>
<circle cx="368.96" cy="250.73" r="0.95" fill="#cc3a1e"/>
<circle cx="372.04" cy="248.30" r="0.95" fill="#cc3a1e"/>
<circle cx="363.29" cy="251.36" r="0.95" fill="#f2a030"/>
<circle cx="367.00" cy="248.42" r="0.95" fill="#d64a1e"/>
<circle cx="356.51" cy="252.43" r="0.95" fill="#e4701e"/>
<circle cx="366.46" cy="248.03" r="0.95" fill="#f4c860"/>
<circle cx="367.61" cy="255.67" r="0.95" fill="#eca52a"/>
<circle cx="371.13" cy="250.55" r="0.95" fill="#c8301a"/>
<circle cx="371.61" cy="250.74" r="0.95" fill="#f8cf6a"/>
<circle cx="363.53" cy="247.25" r="0.95" fill="#f8cf6a"/>
<circle cx="370.92" cy="256.05" r="0.95" fill="#f5b535"/>
<circle cx="366.91" cy="251.22" r="0.95" fill="#eca52a"/>
<circle cx="369.21" cy="255.61" r="0.95" fill="#f2a030"/>
<circle cx="370.03" cy="250.64" r="0.95" fill="#e4701e"/>
<circle cx="371.38" cy="255.36" r="0.95" fill="#f5b535"/>
<circle cx="357.56" cy="255.82" r="0.95" fill="#f8cf6a"/>
<circle cx="360.21" cy="254.96" r="0.95" fill="#f6c25a"/>
<circle cx="358.98" cy="251.71" r="0.95" fill="#e4701e"/>
<circle cx="369.66" cy="252.10" r="0.95" fill="#e4701e"/>
<circle cx="367.74" cy="251.39" r="0.95" fill="#d64a1e"/>
<circle cx="361.05" cy="255.76" r="0.95" fill="#eca52a"/>
<circle cx="369.20" cy="247.04" r="0.95" fill="#c8301a"/>
<circle cx="365.85" cy="247.73" r="0.95" fill="#eca52a"/>
<circle cx="366.02" cy="252.11" r="0.95" fill="#f8cf6a"/>
<circle cx="366.94" cy="247.62" r="0.95" fill="#c8301a"/>
<circle cx="368.26" cy="254.22" r="0.95" fill="#f5b535"/>
<circle cx="363.04" cy="257.20" r="0.95" fill="#f5b535"/>
<circle cx="363.65" cy="247.20" r="0.95" fill="#e4701e"/>
<circle cx="369.68" cy="251.46" r="0.95" fill="#f4c860"/>
<circle cx="361.45" cy="251.60" r="0.95" fill="#f4c860"/>
<circle cx="368.25" cy="251.40" r="0.95" fill="#cc3a1e"/>
<circle cx="368.56" cy="252.70" r="0.95" fill="#e4701e"/>
<circle cx="368.84" cy="256.48" r="0.95" fill="#f8cf6a"/>
<circle cx="372.86" cy="252.40" r="0.95" fill="#eca52a"/>
<circle cx="362.85" cy="251.79" r="0.95" fill="#f8cf6a"/>
<circle cx="362.58" cy="246.78" r="0.95" fill="#eca52a"/>
<circle cx="362.65" cy="251.77" r="0.95" fill="#f5b535"/>
<circle cx="367.00" cy="249.73" r="0.95" fill="#d64a1e"/>
<circle cx="370.75" cy="254.06" r="0.95" fill="#eca52a"/>
<circle cx="361.26" cy="248.59" r="0.95" fill="#f2a030"/>
<circle cx="371.84" cy="249.91" r="0.95" fill="#e4701e"/>
<circle cx="366.68" cy="248.49" r="0.95" fill="#e4701e"/>
<circle cx="368.42" cy="252.81" r="0.95" fill="#eca52a"/>
<circle cx="360.47" cy="247.86" r="0.95" fill="#f4c860"/>
<circle cx="361.59" cy="247.53" r="0.95" fill="#f2a030"/>
<circle cx="367.87" cy="256.87" r="0.95" fill="#f8cf6a"/>
<circle cx="366.94" cy="253.54" r="0.95" fill="#f8cf6a"/>
<circle cx="372.64" cy="251.19" r="0.95" fill="#eca52a"/>
<circle cx="365.54" cy="257.38" r="0.95" fill="#eca52a"/>
<circle cx="355.79" cy="252.00" r="0.95" fill="#f2a030"/>
<circle cx="362.97" cy="251.73" r="0.95" fill="#f2a030"/>
<circle cx="364.19" cy="251.90" r="0.95" fill="#eca52a"/>
<circle cx="355.52" cy="251.64" r="0.95" fill="#eca52a"/>
<circle cx="360.44" cy="251.03" r="0.95" fill="#f5b535"/>
<circle cx="363.38" cy="248.53" r="0.95" fill="#f5b535"/>
<circle cx="367.63" cy="257.09" r="0.95" fill="#f5b535"/>
<circle cx="366.08" cy="254.49" r="0.95" fill="#f8cf6a"/>
<circle cx="361.56" cy="248.73" r="0.95" fill="#f8cf6a"/>
<circle cx="367.80" cy="253.10" r="0.95" fill="#eca52a"/>
<circle cx="362.56" cy="251.18" r="0.95" fill="#eca52a"/>
<circle cx="363.39" cy="257.04" r="0.95" fill="#f2a030"/>
<circle cx="366.82" cy="250.21" r="0.95" fill="#f8cf6a"/>
<circle cx="358.52" cy="249.68" r="0.95" fill="#f5b535"/>
<circle cx="366.23" cy="250.07" r="0.95" fill="#d64a1e"/>
<circle cx="365.59" cy="246.42" r="0.95" fill="#d64a1e"/>
<circle cx="365.19" cy="248.21" r="0.95" fill="#eca52a"/>
<circle cx="368.05" cy="254.72" r="0.95" fill="#f6c25a"/>
<circle cx="364.76" cy="246.28" r="0.95" fill="#eca52a"/>
<circle cx="365.51" cy="247.44" r="0.95" fill="#cc3a1e"/>
<circle cx="357.87" cy="250.12" r="0.95" fill="#f8cf6a"/>
<circle cx="361.27" cy="255.46" r="0.95" fill="#e4701e"/>
<circle cx="365.05" cy="256.20" r="0.95" fill="#f4c860"/>
<circle cx="367.05" cy="255.03" r="0.95" fill="#f4c860"/>
<circle cx="365.48" cy="253.34" r="0.95" fill="#eca52a"/>
<circle cx="369.94" cy="253.96" r="0.95" fill="#e4701e"/>
<circle cx="359.91" cy="248.26" r="0.95" fill="#eca52a"/>
<circle cx="363.55" cy="247.34" r="0.95" fill="#eca52a"/>
<circle cx="367.73" cy="250.31" r="0.95" fill="#d64a1e"/>
<circle cx="364.03" cy="251.94" r="0.95" fill="#f8cf6a"/>
<circle cx="367.21" cy="252.85" r="0.95" fill="#cc3a1e"/>
<circle cx="362.31" cy="246.20" r="0.95" fill="#e4701e"/>
<circle cx="368.81" cy="246.98" r="0.95" fill="#f5b535"/>
<circle cx="359.04" cy="249.87" r="0.95" fill="#f4c860"/>
<circle cx="367.96" cy="249.70" r="0.95" fill="#f8cf6a"/>
<circle cx="362.53" cy="249.06" r="0.95" fill="#e4701e"/>
<circle cx="359.23" cy="249.41" r="0.95" fill="#eca52a"/>
<circle cx="367.82" cy="253.80" r="0.95" fill="#e4701e"/>
<circle cx="370.76" cy="253.31" r="0.95" fill="#f5b535"/>
<circle cx="367.12" cy="254.91" r="0.95" fill="#f4c860"/>
<circle cx="365.39" cy="254.21" r="0.95" fill="#eca52a"/>
<circle cx="364.73" cy="255.86" r="0.95" fill="#e4701e"/>
<circle cx="366.05" cy="248.61" r="0.95" fill="#e4701e"/>
<circle cx="363.20" cy="252.69" r="0.95" fill="#f4c860"/>
<circle cx="361.11" cy="251.84" r="0.95" fill="#f8cf6a"/>
<circle cx="371.13" cy="249.51" r="0.95" fill="#f6c25a"/>
<circle cx="368.28" cy="250.32" r="0.95" fill="#eca52a"/>
<circle cx="366.04" cy="254.57" r="0.95" fill="#f4c860"/>
<circle cx="362.70" cy="254.06" r="0.95" fill="#f2a030"/>
<circle cx="363.20" cy="249.46" r="0.95" fill="#f5b535"/>
<circle cx="357.37" cy="255.54" r="0.95" fill="#eca52a"/>
<circle cx="359.52" cy="246.61" r="0.95" fill="#f4c860"/>
<circle cx="362.30" cy="250.80" r="0.95" fill="#f2a030"/>
<circle cx="367.50" cy="251.99" r="0.95" fill="#e4701e"/>
<circle cx="363.09" cy="249.90" r="0.95" fill="#eca52a"/>
<circle cx="364.54" cy="248.64" r="0.95" fill="#f5b535"/>
<circle cx="371.05" cy="254.39" r="0.95" fill="#e4701e"/>
<circle cx="365.72" cy="246.77" r="0.95" fill="#c8301a"/>
<circle cx="370.45" cy="247.38" r="0.95" fill="#e4701e"/>
<circle cx="368.77" cy="253.30" r="0.95" fill="#f6c25a"/>
<circle cx="369.20" cy="250.87" r="0.95" fill="#c8301a"/>
<circle cx="365.24" cy="253.67" r="0.95" fill="#f8cf6a"/>
<circle cx="359.09" cy="246.53" r="0.95" fill="#eca52a"/>
<circle cx="367.75" cy="251.73" r="0.95" fill="#d64a1e"/>
<circle cx="364.41" cy="246.86" r="0.95" fill="#f5b535"/>
<circle cx="361.24" cy="255.41" r="0.95" fill="#f2a030"/>
<circle cx="367.88" cy="249.03" r="0.95" fill="#e4701e"/>
<circle cx="372.36" cy="248.53" r="0.95" fill="#e4701e"/>
<circle cx="367.11" cy="255.58" r="0.95" fill="#e4701e"/>
<circle cx="360.29" cy="256.95" r="0.95" fill="#f8cf6a"/>
<circle cx="364.25" cy="247.23" r="0.95" fill="#f2a030"/>
<circle cx="370.66" cy="247.94" r="0.95" fill="#e4701e"/>
<circle cx="368.93" cy="252.81" r="0.95" fill="#f8cf6a"/>
<circle cx="368.10" cy="251.65" r="0.95" fill="#cc3a1e"/>
<circle cx="360.37" cy="248.33" r="0.95" fill="#f5b535"/>
<circle cx="359.13" cy="255.01" r="0.95" fill="#f2a030"/>
<circle cx="368.68" cy="246.92" r="0.95" fill="#d64a1e"/>
<circle cx="372.87" cy="250.83" r="0.95" fill="#eca52a"/>
<circle cx="371.23" cy="250.12" r="0.95" fill="#d64a1e"/>
<circle cx="369.14" cy="252.71" r="0.95" fill="#e4701e"/>
<circle cx="370.17" cy="253.94" r="0.95" fill="#f8cf6a"/>
<circle cx="366.07" cy="247.23" r="0.95" fill="#f5b535"/>
<circle cx="359.75" cy="251.12" r="0.95" fill="#f6c25a"/>
<circle cx="372.56" cy="250.11" r="0.95" fill="#c8301a"/>
<circle cx="371.68" cy="249.80" r="0.95" fill="#cc3a1e"/>
<circle cx="372.15" cy="249.80" r="0.95" fill="#f8cf6a"/>
<circle cx="363.58" cy="247.15" r="0.95" fill="#f4c860"/>
<circle cx="362.72" cy="253.83" r="0.95" fill="#f8cf6a"/>
<circle cx="356.41" cy="253.60" r="0.95" fill="#f6c25a"/>
<circle cx="366.87" cy="256.43" r="0.95" fill="#e4701e"/>
<circle cx="372.03" cy="248.00" r="0.95" fill="#e4701e"/>
<circle cx="363.32" cy="251.21" r="0.95" fill="#f4c860"/>
<circle cx="356.29" cy="250.55" r="0.95" fill="#f4c860"/>
<circle cx="358.72" cy="246.74" r="0.95" fill="#f6c25a"/>
<circle cx="370.53" cy="247.22" r="0.95" fill="#f5b535"/>
<circle cx="365.76" cy="254.37" r="0.95" fill="#eca52a"/>
<circle cx="364.60" cy="249.75" r="0.95" fill="#eca52a"/>
<circle cx="362.40" cy="254.32" r="0.95" fill="#eca52a"/>
<circle cx="364.70" cy="255.92" r="0.95" fill="#f2a030"/>
<circle cx="369.54" cy="250.14" r="0.95" fill="#f2a030"/>
<circle cx="365.91" cy="256.99" r="0.95" fill="#eca52a"/>
<circle cx="364.92" cy="252.07" r="0.95" fill="#f5b535"/>
<circle cx="370.72" cy="250.26" r="0.95" fill="#eca52a"/>
<circle cx="358.05" cy="255.30" r="0.95" fill="#f6c25a"/>
<circle cx="365.98" cy="254.38" r="0.95" fill="#f4c860"/>
<circle cx="358.79" cy="246.81" r="0.95" fill="#eca52a"/>
<circle cx="367.95" cy="253.76" r="0.95" fill="#eca52a"/>
<circle cx="365.02" cy="249.80" r="0.95" fill="#eca52a"/>
<circle cx="371.83" cy="247.64" r="0.95" fill="#f2a030"/>
<circle cx="366.76" cy="255.02" r="0.95" fill="#f5b535"/>
<circle cx="372.63" cy="251.60" r="0.95" fill="#c8301a"/>
<circle cx="363.64" cy="249.78" r="0.95" fill="#e4701e"/>
<circle cx="371.00" cy="248.61" r="0.95" fill="#eca52a"/>
<circle cx="362.75" cy="252.20" r="0.95" fill="#f8cf6a"/>
<circle cx="369.16" cy="252.70" r="0.95" fill="#f8cf6a"/>
<circle cx="363.18" cy="256.86" r="0.95" fill="#e4701e"/>
<circle cx="362.94" cy="250.10" r="0.95" fill="#e4701e"/>
<circle cx="371.49" cy="259.02" r="0.95" fill="#f5dca0"/>
<circle cx="365.62" cy="267.11" r="0.95" fill="#f5dca0"/>
<circle cx="370.65" cy="259.31" r="0.95" fill="#f6d08a"/>
<circle cx="369.28" cy="264.41" r="0.95" fill="#f1d8a4"/>
<circle cx="361.86" cy="258.62" r="0.95" fill="#eedcb8"/>
<circle cx="370.53" cy="262.58" r="0.95" fill="#f8e8c0"/>
<circle cx="367.29" cy="263.46" r="0.95" fill="#fce8b0"/>
<circle cx="366.14" cy="257.52" r="0.95" fill="#f6d08a"/>
<circle cx="366.08" cy="267.48" r="0.95" fill="#f6d08a"/>
<circle cx="368.08" cy="267.18" r="0.95" fill="#f8e8c0"/>
<circle cx="365.69" cy="265.51" r="0.95" fill="#f5dca0"/>
<circle cx="363.65" cy="259.11" r="0.95" fill="#eedcb8"/>
<circle cx="360.71" cy="263.53" r="0.95" fill="#f5dca0"/>
<circle cx="364.47" cy="261.37" r="0.95" fill="#f1d8a4"/>
<circle cx="366.73" cy="267.39" r="0.95" fill="#fce8b0"/>
<circle cx="368.54" cy="258.65" r="0.95" fill="#f3c878"/>
<circle cx="369.10" cy="262.07" r="0.95" fill="#f5dca0"/>
<circle cx="370.03" cy="261.63" r="0.95" fill="#f1d8a4"/>
<circle cx="369.46" cy="258.12" r="0.95" fill="#f8e8c0"/>
<circle cx="372.65" cy="261.51" r="0.95" fill="#f5dca0"/>
<circle cx="368.33" cy="257.95" r="0.95" fill="#f6d08a"/>
<circle cx="371.07" cy="263.62" r="0.95" fill="#f8e8c0"/>
<circle cx="362.45" cy="258.00" r="0.95" fill="#fce8b0"/>
<circle cx="366.09" cy="264.96" r="0.95" fill="#f1d8a4"/>
<circle cx="366.71" cy="260.86" r="0.95" fill="#f6d08a"/>
<circle cx="371.13" cy="264.69" r="0.95" fill="#eedcb8"/>
<circle cx="364.76" cy="262.67" r="0.95" fill="#f1d8a4"/>
<circle cx="365.01" cy="264.03" r="0.95" fill="#f1d8a4"/>
<circle cx="366.42" cy="258.84" r="0.95" fill="#f8e8c0"/>
<circle cx="361.06" cy="264.02" r="0.95" fill="#f8e8c0"/>
<circle cx="364.39" cy="260.20" r="0.95" fill="#f8e8c0"/>
<circle cx="365.30" cy="255.98" r="0.95" fill="#fce8b0"/>
<circle cx="368.36" cy="260.87" r="0.95" fill="#fce8b0"/>
<circle cx="364.57" cy="255.92" r="0.95" fill="#eedcb8"/>
<circle cx="370.25" cy="264.69" r="0.95" fill="#f5dca0"/>
<circle cx="363.39" cy="257.94" r="0.95" fill="#f1d8a4"/>
<circle cx="364.28" cy="264.98" r="0.95" fill="#f8e8c0"/>
<circle cx="370.30" cy="265.21" r="0.95" fill="#eedcb8"/>
<circle cx="363.36" cy="259.71" r="0.95" fill="#f8e8c0"/>
<circle cx="366.80" cy="259.33" r="0.95" fill="#f8e8c0"/>
<circle cx="362.95" cy="261.82" r="0.95" fill="#f8e8c0"/>
<circle cx="362.92" cy="265.69" r="0.95" fill="#f5dca0"/>
<circle cx="363.97" cy="266.74" r="0.95" fill="#eedcb8"/>
<circle cx="363.47" cy="257.42" r="0.95" fill="#f8e8c0"/>
<circle cx="366.47" cy="260.88" r="0.95" fill="#f8e8c0"/>
<circle cx="369.05" cy="257.72" r="0.95" fill="#f6d08a"/>
<circle cx="365.64" cy="264.94" r="0.95" fill="#f6d08a"/>
<circle cx="360.72" cy="261.43" r="0.95" fill="#fce8b0"/>
<circle cx="368.81" cy="255.98" r="0.95" fill="#f3c878"/>
<circle cx="371.94" cy="262.55" r="0.95" fill="#f3c878"/>
<circle cx="362.15" cy="257.14" r="0.95" fill="#eedcb8"/>
<circle cx="363.63" cy="262.61" r="0.95" fill="#f3c878"/>
<circle cx="371.73" cy="257.80" r="0.95" fill="#f6d08a"/>
<circle cx="372.58" cy="262.18" r="0.95" fill="#f3c878"/>
<circle cx="365.73" cy="263.90" r="0.95" fill="#f6d08a"/>
<circle cx="368.86" cy="263.95" r="0.95" fill="#f3c878"/>
<circle cx="367.39" cy="264.12" r="0.95" fill="#f1d8a4"/>
<circle cx="364.60" cy="259.65" r="0.95" fill="#f3c878"/>
<circle cx="366.59" cy="260.90" r="0.95" fill="#f1d8a4"/>
<circle cx="366.31" cy="266.69" r="0.95" fill="#f1d8a4"/>
<circle cx="362.73" cy="262.36" r="0.95" fill="#f3c878"/>
<circle cx="362.26" cy="265.85" r="0.95" fill="#f6d08a"/>
<circle cx="368.32" cy="265.10" r="0.95" fill="#fce8b0"/>
<circle cx="369.88" cy="256.78" r="0.95" fill="#f3c878"/>
<circle cx="367.75" cy="256.34" r="0.95" fill="#f3c878"/>
<circle cx="361.94" cy="265.45" r="0.95" fill="#f8e8c0"/>
<circle cx="366.35" cy="257.10" r="0.95" fill="#fce8b0"/>
<circle cx="366.58" cy="260.80" r="0.95" fill="#f1d8a4"/>
<circle cx="370.93" cy="259.32" r="0.95" fill="#f6d08a"/>
<circle cx="368.69" cy="263.46" r="0.95" fill="#f8e8c0"/>
<circle cx="363.22" cy="262.09" r="0.95" fill="#eedcb8"/>
<circle cx="365.02" cy="256.59" r="0.95" fill="#f5dca0"/>
<circle cx="366.60" cy="259.64" r="0.95" fill="#f8e8c0"/>
<circle cx="364.66" cy="257.55" r="0.95" fill="#f6d08a"/>
<circle cx="365.75" cy="257.11" r="0.95" fill="#f3c878"/>
<circle cx="366.50" cy="255.91" r="0.95" fill="#f5dca0"/>
<circle cx="366.06" cy="261.34" r="0.95" fill="#f3c878"/>
<circle cx="365.47" cy="259.38" r="0.95" fill="#f3c878"/>
<circle cx="366.65" cy="266.19" r="0.95" fill="#eedcb8"/>
<circle cx="369.17" cy="261.50" r="0.95" fill="#f5dca0"/>
<circle cx="362.82" cy="265.53" r="0.95" fill="#fce8b0"/>
<circle cx="369.95" cy="264.43" r="0.95" fill="#f3c878"/>
<circle cx="369.17" cy="263.69" r="0.95" fill="#f8e8c0"/>
<circle cx="365.98" cy="266.87" r="0.95" fill="#f5dca0"/>
<circle cx="371.12" cy="264.05" r="0.95" fill="#f8e8c0"/>
<circle cx="368.36" cy="264.69" r="0.95" fill="#f6d08a"/>
<circle cx="370.90" cy="261.36" r="0.95" fill="#f5dca0"/>
<circle cx="367.72" cy="259.78" r="0.95" fill="#fce8b0"/>
<circle cx="372.05" cy="259.72" r="0.95" fill="#f1d8a4"/>
<circle cx="369.39" cy="267.00" r="0.95" fill="#f5dca0"/>
<circle cx="371.05" cy="261.89" r="0.95" fill="#f3c878"/>
<circle cx="372.51" cy="260.55" r="0.95" fill="#fce8b0"/>
<circle cx="363.41" cy="258.30" r="0.95" fill="#f3c878"/>
<circle cx="362.99" cy="257.55" r="0.95" fill="#f8e8c0"/>
<circle cx="368.81" cy="265.59" r="0.95" fill="#f1d8a4"/>
<circle cx="370.73" cy="260.81" r="0.95" fill="#eedcb8"/>
<circle cx="365.20" cy="259.72" r="0.95" fill="#f1d8a4"/>
<circle cx="368.54" cy="261.80" r="0.95" fill="#eedcb8"/>
<circle cx="371.14" cy="258.96" r="0.95" fill="#f3c878"/>
<circle cx="365.91" cy="266.43" r="0.95" fill="#f3c878"/>
<circle cx="361.58" cy="260.84" r="0.95" fill="#f8e8c0"/>
<circle cx="368.77" cy="258.22" r="0.95" fill="#f3c878"/>
<circle cx="369.55" cy="262.72" r="0.95" fill="#eedcb8"/>
<circle cx="369.26" cy="260.88" r="0.95" fill="#f3c878"/>
<circle cx="362.83" cy="261.63" r="0.95" fill="#f5dca0"/>
<circle cx="364.74" cy="264.00" r="0.95" fill="#eedcb8"/>
<circle cx="367.59" cy="257.48" r="0.95" fill="#eedcb8"/>
<circle cx="371.18" cy="259.10" r="0.95" fill="#f3c878"/>
<circle cx="370.70" cy="258.07" r="0.95" fill="#f3c878"/>
<circle cx="365.05" cy="264.98" r="0.95" fill="#f6d08a"/>
<circle cx="367.79" cy="259.53" r="0.95" fill="#f3c878"/>
<circle cx="371.47" cy="261.59" r="0.95" fill="#f8e8c0"/>
<circle cx="369.18" cy="264.46" r="0.95" fill="#fce8b0"/>
<circle cx="372.27" cy="260.27" r="0.95" fill="#f1d8a4"/>
<circle cx="364.16" cy="264.44" r="0.95" fill="#f6d08a"/>
<circle cx="370.00" cy="261.50" r="0.95" fill="#eedcb8"/>
<circle cx="363.06" cy="260.07" r="0.95" fill="#fce8b0"/>
<circle cx="364.60" cy="260.33" r="0.95" fill="#f1d8a4"/>
<circle cx="369.31" cy="261.21" r="0.95" fill="#eedcb8"/>
<circle cx="366.67" cy="262.35" r="0.95" fill="#f5dca0"/>
<circle cx="369.83" cy="259.17" r="0.95" fill="#f1d8a4"/>
<circle cx="366.19" cy="260.71" r="0.95" fill="#f5dca0"/>
<circle cx="370.65" cy="261.11" r="0.95" fill="#f5dca0"/>
<circle cx="362.11" cy="261.43" r="0.95" fill="#f3c878"/>
<circle cx="369.26" cy="266.59" r="0.95" fill="#f5dca0"/>
<circle cx="367.42" cy="256.00" r="0.95" fill="#f8e8c0"/>
<circle cx="361.10" cy="261.96" r="0.95" fill="#f5dca0"/>
<circle cx="363.26" cy="263.28" r="0.95" fill="#f5dca0"/>
<circle cx="368.87" cy="263.07" r="0.95" fill="#f8e8c0"/>
<circle cx="363.64" cy="264.14" r="0.95" fill="#f8e8c0"/>
<circle cx="370.42" cy="258.55" r="0.95" fill="#eedcb8"/>
<circle cx="363.99" cy="265.10" r="0.95" fill="#f1d8a4"/>
<circle cx="363.27" cy="264.79" r="0.95" fill="#f6d08a"/>
<circle cx="364.55" cy="267.15" r="0.95" fill="#fce8b0"/>
<circle cx="366.00" cy="261.27" r="0.95" fill="#f1d8a4"/>
<circle cx="366.62" cy="264.62" r="0.95" fill="#f3c878"/>
<circle cx="364.73" cy="259.67" r="0.95" fill="#f8e8c0"/>
<circle cx="366.07" cy="256.69" r="0.95" fill="#f8e8c0"/>
<circle cx="367.44" cy="259.54" r="0.95" fill="#eedcb8"/>
<circle cx="371.16" cy="258.93" r="0.95" fill="#f3c878"/>
<circle cx="364.10" cy="261.83" r="0.95" fill="#f5dca0"/>
<circle cx="371.16" cy="261.11" r="0.95" fill="#f6d08a"/>
<circle cx="363.47" cy="256.90" r="0.95" fill="#f1d8a4"/>
<circle cx="366.15" cy="262.73" r="0.95" fill="#eedcb8"/>
<circle cx="370.94" cy="258.98" r="0.95" fill="#eedcb8"/>
<circle cx="369.32" cy="257.97" r="0.95" fill="#f5dca0"/>
<circle cx="369.27" cy="260.97" r="0.95" fill="#f6d08a"/>
<circle cx="366.50" cy="263.48" r="0.95" fill="#eedcb8"/>
<circle cx="365.12" cy="257.29" r="0.95" fill="#f1d8a4"/>
<circle cx="367.11" cy="266.60" r="0.95" fill="#f8e8c0"/>
<circle cx="362.41" cy="262.85" r="0.95" fill="#f6d08a"/>
<circle cx="361.37" cy="259.42" r="0.95" fill="#f5dca0"/>
<circle cx="369.75" cy="257.15" r="0.95" fill="#fce8b0"/>
<circle cx="367.07" cy="257.29" r="0.95" fill="#f3c878"/>
<circle cx="368.21" cy="259.30" r="0.95" fill="#f6d08a"/>
<circle cx="370.09" cy="266.46" r="0.95" fill="#eedcb8"/>
<circle cx="369.26" cy="258.87" r="0.95" fill="#f1d8a4"/>
<circle cx="359.30" cy="252.10" r="1.0" fill="#c4dbee"/>
<circle cx="350.80" cy="258.30" r="1.2" fill="#e9c277"/>
<ellipse cx="360.4" cy="269.0" rx="3.0" ry="2.2" transform="rotate(-35 360.4 269)" fill="#acd0ee"/>
<circle cx="360.52" cy="269.62" r="1.0" fill="#b8d6f0"/>
<circle cx="361.01" cy="268.26" r="1.0" fill="#a8ccec"/>
<circle cx="362.01" cy="268.43" r="1.0" fill="#98c2ea"/>
<circle cx="360.12" cy="269.27" r="1.0" fill="#a8ccec"/>
<circle cx="358.17" cy="270.01" r="1.0" fill="#a8ccec"/>
<circle cx="360.38" cy="267.33" r="1.0" fill="#98c2ea"/>
<circle cx="362.73" cy="270.54" r="1.0" fill="#b8d6f0"/>
<circle cx="359.11" cy="266.94" r="1.0" fill="#a8ccec"/>
<circle cx="361.58" cy="270.02" r="1.0" fill="#98c2ea"/>
<circle cx="358.79" cy="267.73" r="1.0" fill="#98c2ea"/>
<circle cx="358.23" cy="269.22" r="1.0" fill="#b8d6f0"/>
<circle cx="360.74" cy="266.88" r="1.0" fill="#a8ccec"/>
<circle cx="359.18" cy="267.56" r="1.0" fill="#98c2ea"/>
<circle cx="359.46" cy="270.23" r="1.0" fill="#a8ccec"/>
<circle cx="360.16" cy="269.68" r="1.0" fill="#98c2ea"/>
<circle cx="361.03" cy="270.08" r="1.0" fill="#a8ccec"/>
<circle cx="356.20" cy="271.40" r="1.0" fill="#b8d6f0"/>
<circle cx="344.00" cy="275.40" r="1.0" fill="#c0d8ee"/>
<circle cx="345.50" cy="274.80" r="1.0" fill="#b4d2ee"/>
<circle cx="347.00" cy="274.60" r="1.0" fill="#b4d2ee"/>
<circle cx="348.50" cy="274.30" r="1.0" fill="#b4d2ee"/>
<circle cx="350.00" cy="274.80" r="1.0" fill="#c0d8ee"/>
<circle cx="351.50" cy="274.20" r="1.0" fill="#b4d2ee"/>
<circle cx="352.40" cy="273.60" r="1.0" fill="#c0d8ee"/>
<circle cx="355.50" cy="272.50" r="1.0" fill="#c0d8ee"/>
<rect x="416.5" y="256.2" width="7.3" height="34.4" fill="url(#rdylbu)"/>
<text x="410.18" y="250.40" font-size="7.8" font-weight="normal" font-style="normal" fill="#1a1a1a" text-anchor="start" textLength="17.65" lengthAdjust="spacingAndGlyphs"  stroke="#1a1a1a" stroke-width="0.12">IRF4</text>
<text x="427.00" y="263.50" font-size="8.2" font-weight="normal" font-style="normal" fill="#1a1a1a" text-anchor="start"  stroke="#1a1a1a" stroke-width="0.12">1</text>
<text x="426.50" y="275.10" font-size="8.2" font-weight="normal" font-style="normal" fill="#1a1a1a" text-anchor="start"  stroke="#1a1a1a" stroke-width="0.12">0</text>
<text x="426.00" y="287.20" font-size="8.2" font-weight="normal" font-style="normal" fill="#1a1a1a" text-anchor="start"  stroke="#1a1a1a" stroke-width="0.12">-1</text>
<g transform="translate(411.50,273.70) rotate(-90)"><text x="0" y="0" font-size="10.4" font-weight="normal" font-style="italic" fill="#1a1a1a" text-anchor="middle" textLength="21.20" lengthAdjust="spacingAndGlyphs"  stroke="#1a1a1a" stroke-width="0.12">z-score</text></g>
</svg></body></html>
